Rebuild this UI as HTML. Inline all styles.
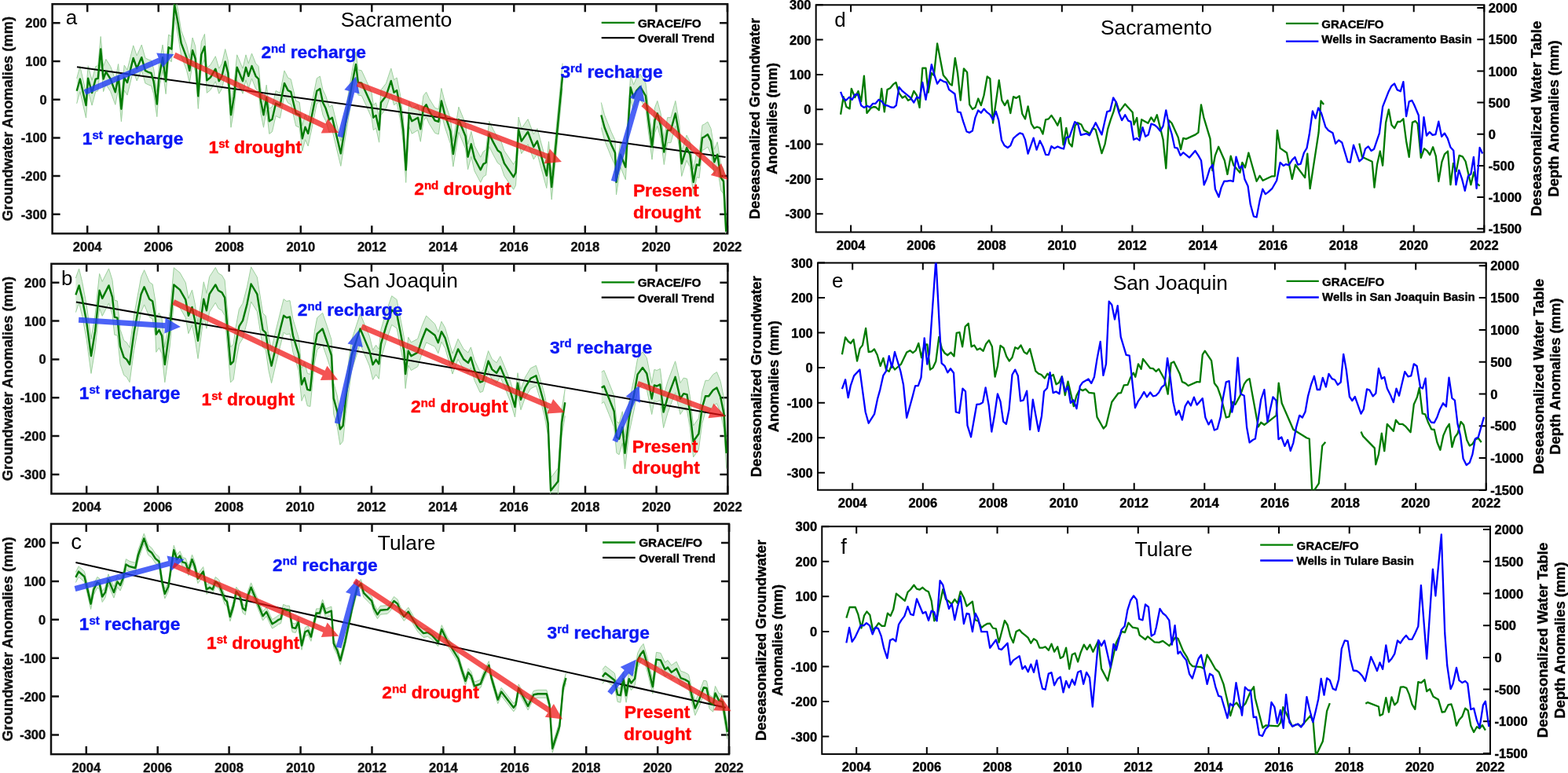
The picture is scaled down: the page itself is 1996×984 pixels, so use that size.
<!DOCTYPE html><html><head><meta charset="utf-8"><style>html,body{margin:0;padding:0;background:#fff;overflow:hidden;}svg{display:block;}</style></head><body>
<svg width="1996" height="984" viewBox="0 0 1996 984" font-family="'Liberation Sans', Arial, Helvetica, sans-serif">
<rect width="1996" height="984" fill="#fff"/>
<defs><clipPath id="clipa"><rect x="66.6" y="5.2" width="859.5" height="292.1"/></clipPath></defs>
<rect x="66.6" y="5.2" width="859.5" height="292.1" fill="none" stroke="#111" stroke-width="2.5"/>
<path d="M111.2 5.2v10M111.2 297.3v-10M201.7 5.2v10M201.7 297.3v-10M292.2 5.2v10M292.2 297.3v-10M382.8 5.2v10M382.8 297.3v-10M473.3 5.2v10M473.3 297.3v-10M563.8 5.2v10M563.8 297.3v-10M654.3 5.2v10M654.3 297.3v-10M744.8 5.2v10M744.8 297.3v-10M835.4 5.2v10M835.4 297.3v-10M925.9 5.2v10M925.9 297.3v-10M66.6 272.8h10M926.1 272.8h-10M66.6 224.1h10M926.1 224.1h-10M66.6 175.4h10M926.1 175.4h-10M66.6 126.7h10M926.1 126.7h-10M66.6 78h10M926.1 78h-10M66.6 29.3h10M926.1 29.3h-10" stroke="#111" stroke-width="2.5" fill="none"/>
<g clip-path="url(#clipa)"><polygon points="97.7,99.8 101.9,84.6 109.5,118.1 112.1,83.8 117.1,102.1 121.7,84.6 124.7,83.8 128.2,46.5 131.6,84.6 134.9,75.4 140.7,84.6 146.8,101.3 150.6,81.5 154.4,122.7 158.2,83 162,89.1 169.7,57.9 174.2,70.9 180.3,57.1 184.9,73.9 189.5,76.2 192.5,77 195.6,87.6 199.8,116.6 202.4,83 207,57.1 211.1,87.6 214.6,44.2 218.4,46.5 222.2,-9.9 226.8,14.5 230.6,38.9 237.5,57.1 241.3,73.9 245.1,48 248.7,58.9 252.3,106.4 256.3,53.4 260.5,43.3 263.3,86.3 267.9,82.6 274.3,71.7 278.8,87.2 282.5,80.8 286.7,62.5 290.3,77.1 294,130.2 298,106.4 301.7,69.8 309,87.2 313,69.8 316.3,80.8 320.5,68 325.5,80.8 329.1,84.5 331.9,111.9 335.5,130.2 339.2,108.2 342.8,138.4 346.5,135.7 351.1,115.5 356.5,118.3 362,89.9 366.6,99.1 370.3,100.9 376.7,128.3 381.2,130.2 384.9,160.3 388.5,145.7 392.2,153.9 396.8,132 403.3,99.8 407.3,97.1 411,114.5 414.6,121.8 419.2,136.4 422.9,133.7 433.8,179.4 443,122 448.5,89 453,66 455.8,88.9 460.3,89.8 465.8,101.7 473.1,118.1 475.3,133.7 478.6,130.9 482.6,149.2 485,114.5 491.4,106.2 497.8,87 501.5,101.7 505.1,98.9 509.7,121.8 513.4,151 516.7,200.4 520.7,129.1 524.3,138.2 532,133.7 535.3,148.3 539,121.8 542.6,117.2 546.3,125.4 553.6,137.3 558.3,138.9 561.9,112.4 566,128.9 573.3,150.8 576.9,180.1 583.9,136.2 592.5,157.2 595.6,183.7 599.8,167.3 604,185.5 611.7,200.2 615.3,192.9 618.6,191 622.7,154.5 628.1,165.4 633.6,175.5 637.3,178.2 641.9,191.9 653.7,209.3 656.5,203.8 660.1,149 663.8,163.6 672,151.7 679.3,170.9 683.9,163.6 695.8,207.5 698.5,180.1 702.2,222.1 706.8,176.4 716.1,80.6 716.1,112.6 706.8,208.4 702.2,254.1 698.5,212.1 695.8,239.5 683.9,195.6 679.3,202.9 672,183.7 663.8,195.6 660.1,181 656.5,235.8 653.7,241.3 641.9,223.9 637.3,210.2 633.6,207.5 628.1,197.4 622.7,186.5 618.6,223 615.3,224.9 611.7,232.2 604,217.5 599.8,199.3 595.6,215.7 592.5,189.2 583.9,168.2 576.9,212.1 573.3,182.8 566,160.9 561.9,144.4 558.3,170.9 553.6,169.3 546.3,157.4 542.6,149.2 539,153.8 535.3,180.3 532,165.7 524.3,170.2 520.7,161.1 516.7,232.4 513.4,183 509.7,153.8 505.1,130.9 501.5,133.7 497.8,119 491.4,138.2 485,146.5 482.6,181.2 478.6,162.9 475.3,165.7 473.1,150.1 465.8,133.7 460.3,121.8 455.8,120.9 453,98 448.5,121 443,154 433.8,211.4 422.9,165.7 419.2,168.4 414.6,153.8 411,146.5 407.3,129.1 403.3,131.8 396.8,164 392.2,185.9 388.5,177.7 384.9,192.3 381.2,162.2 376.7,160.3 370.3,132.9 366.6,131.1 362,121.9 356.5,150.3 351.1,147.5 346.5,167.7 342.8,170.4 339.2,140.2 335.5,162.2 331.9,143.9 329.1,116.5 325.5,112.8 320.5,100 316.3,112.8 313,101.8 309,119.2 301.7,101.8 298,138.4 294,162.2 290.3,109.1 286.7,94.5 282.5,112.8 278.8,119.2 274.3,103.7 267.9,114.6 263.3,118.3 260.5,75.3 256.3,85.4 252.3,138.4 248.7,90.9 245.1,80 241.3,105.9 237.5,89.1 230.6,70.9 226.8,46.5 222.2,22.1 218.4,78.5 214.6,76.2 211.1,119.6 207,89.1 202.4,115 199.8,148.6 195.6,119.6 192.5,109 189.5,108.2 184.9,105.9 180.3,89.1 174.2,102.9 169.7,89.9 162,121.1 158.2,115 154.4,154.7 150.6,113.5 146.8,133.3 140.7,116.6 134.9,107.4 131.6,116.6 128.2,78.5 124.7,115.8 121.7,116.6 117.1,134.1 112.1,115.8 109.5,150.1 101.9,116.6 97.7,131.8" fill="#1a961a" fill-opacity="0.17" stroke="none"/><polyline points="97.7,99.8 101.9,84.6 109.5,118.1 112.1,83.8 117.1,102.1 121.7,84.6 124.7,83.8 128.2,46.5 131.6,84.6 134.9,75.4 140.7,84.6 146.8,101.3 150.6,81.5 154.4,122.7 158.2,83 162,89.1 169.7,57.9 174.2,70.9 180.3,57.1 184.9,73.9 189.5,76.2 192.5,77 195.6,87.6 199.8,116.6 202.4,83 207,57.1 211.1,87.6 214.6,44.2 218.4,46.5 222.2,-9.9 226.8,14.5 230.6,38.9 237.5,57.1 241.3,73.9 245.1,48 248.7,58.9 252.3,106.4 256.3,53.4 260.5,43.3 263.3,86.3 267.9,82.6 274.3,71.7 278.8,87.2 282.5,80.8 286.7,62.5 290.3,77.1 294,130.2 298,106.4 301.7,69.8 309,87.2 313,69.8 316.3,80.8 320.5,68 325.5,80.8 329.1,84.5 331.9,111.9 335.5,130.2 339.2,108.2 342.8,138.4 346.5,135.7 351.1,115.5 356.5,118.3 362,89.9 366.6,99.1 370.3,100.9 376.7,128.3 381.2,130.2 384.9,160.3 388.5,145.7 392.2,153.9 396.8,132 403.3,99.8 407.3,97.1 411,114.5 414.6,121.8 419.2,136.4 422.9,133.7 433.8,179.4 443,122 448.5,89 453,66 455.8,88.9 460.3,89.8 465.8,101.7 473.1,118.1 475.3,133.7 478.6,130.9 482.6,149.2 485,114.5 491.4,106.2 497.8,87 501.5,101.7 505.1,98.9 509.7,121.8 513.4,151 516.7,200.4 520.7,129.1 524.3,138.2 532,133.7 535.3,148.3 539,121.8 542.6,117.2 546.3,125.4 553.6,137.3 558.3,138.9 561.9,112.4 566,128.9 573.3,150.8 576.9,180.1 583.9,136.2 592.5,157.2 595.6,183.7 599.8,167.3 604,185.5 611.7,200.2 615.3,192.9 618.6,191 622.7,154.5 628.1,165.4 633.6,175.5 637.3,178.2 641.9,191.9 653.7,209.3 656.5,203.8 660.1,149 663.8,163.6 672,151.7 679.3,170.9 683.9,163.6 695.8,207.5 698.5,180.1 702.2,222.1 706.8,176.4 716.1,80.6" fill="none" stroke="#9ccf9c" stroke-width="1" stroke-linejoin="round" /><polyline points="97.7,131.8 101.9,116.6 109.5,150.1 112.1,115.8 117.1,134.1 121.7,116.6 124.7,115.8 128.2,78.5 131.6,116.6 134.9,107.4 140.7,116.6 146.8,133.3 150.6,113.5 154.4,154.7 158.2,115 162,121.1 169.7,89.9 174.2,102.9 180.3,89.1 184.9,105.9 189.5,108.2 192.5,109 195.6,119.6 199.8,148.6 202.4,115 207,89.1 211.1,119.6 214.6,76.2 218.4,78.5 222.2,22.1 226.8,46.5 230.6,70.9 237.5,89.1 241.3,105.9 245.1,80 248.7,90.9 252.3,138.4 256.3,85.4 260.5,75.3 263.3,118.3 267.9,114.6 274.3,103.7 278.8,119.2 282.5,112.8 286.7,94.5 290.3,109.1 294,162.2 298,138.4 301.7,101.8 309,119.2 313,101.8 316.3,112.8 320.5,100 325.5,112.8 329.1,116.5 331.9,143.9 335.5,162.2 339.2,140.2 342.8,170.4 346.5,167.7 351.1,147.5 356.5,150.3 362,121.9 366.6,131.1 370.3,132.9 376.7,160.3 381.2,162.2 384.9,192.3 388.5,177.7 392.2,185.9 396.8,164 403.3,131.8 407.3,129.1 411,146.5 414.6,153.8 419.2,168.4 422.9,165.7 433.8,211.4 443,154 448.5,121 453,98 455.8,120.9 460.3,121.8 465.8,133.7 473.1,150.1 475.3,165.7 478.6,162.9 482.6,181.2 485,146.5 491.4,138.2 497.8,119 501.5,133.7 505.1,130.9 509.7,153.8 513.4,183 516.7,232.4 520.7,161.1 524.3,170.2 532,165.7 535.3,180.3 539,153.8 542.6,149.2 546.3,157.4 553.6,169.3 558.3,170.9 561.9,144.4 566,160.9 573.3,182.8 576.9,212.1 583.9,168.2 592.5,189.2 595.6,215.7 599.8,199.3 604,217.5 611.7,232.2 615.3,224.9 618.6,223 622.7,186.5 628.1,197.4 633.6,207.5 637.3,210.2 641.9,223.9 653.7,241.3 656.5,235.8 660.1,181 663.8,195.6 672,183.7 679.3,202.9 683.9,195.6 695.8,239.5 698.5,212.1 702.2,254.1 706.8,208.4 716.1,112.6" fill="none" stroke="#9ccf9c" stroke-width="1" stroke-linejoin="round" /><polygon points="765.3,130.5 769.6,146.5 778.1,167.9 783,178.5 784.5,215.9 789.9,180.7 796.3,196.7 802.7,95.3 806.5,108.1 810.1,99.6 815,94.3 821.9,106 825.1,133.7 830,171.1 833.6,136.9 836.8,128.4 841.1,144.4 845.3,177.5 849.6,149.7 853.9,149.7 859.8,128.4 864.5,155.1 867.7,192.4 874.1,172.1 878.4,180.7 882.7,215.9 886.9,193.5 890.1,194.5 894,159.3 896.5,158.3 900.8,155.1 905,163.6 909.3,190.3 913.2,180.7 917.8,210.5 921,214.8 924.3,278.8 924.3,310.8 921,246.8 917.8,242.5 913.2,212.7 909.3,222.3 905,195.6 900.8,187.1 896.5,190.3 894,191.3 890.1,226.5 886.9,225.5 882.7,247.9 878.4,212.7 874.1,204.1 867.7,224.4 864.5,187.1 859.8,160.4 853.9,181.7 849.6,181.7 845.3,209.5 841.1,176.4 836.8,160.4 833.6,168.9 830,203.1 825.1,165.7 821.9,138 815,126.3 810.1,131.6 806.5,140.1 802.7,127.3 796.3,228.7 789.9,212.7 784.5,247.9 783,210.5 778.1,199.9 769.6,178.5 765.3,162.5" fill="#1a961a" fill-opacity="0.17" stroke="none"/><polyline points="765.3,130.5 769.6,146.5 778.1,167.9 783,178.5 784.5,215.9 789.9,180.7 796.3,196.7 802.7,95.3 806.5,108.1 810.1,99.6 815,94.3 821.9,106 825.1,133.7 830,171.1 833.6,136.9 836.8,128.4 841.1,144.4 845.3,177.5 849.6,149.7 853.9,149.7 859.8,128.4 864.5,155.1 867.7,192.4 874.1,172.1 878.4,180.7 882.7,215.9 886.9,193.5 890.1,194.5 894,159.3 896.5,158.3 900.8,155.1 905,163.6 909.3,190.3 913.2,180.7 917.8,210.5 921,214.8 924.3,278.8" fill="none" stroke="#9ccf9c" stroke-width="1" stroke-linejoin="round" /><polyline points="765.3,162.5 769.6,178.5 778.1,199.9 783,210.5 784.5,247.9 789.9,212.7 796.3,228.7 802.7,127.3 806.5,140.1 810.1,131.6 815,126.3 821.9,138 825.1,165.7 830,203.1 833.6,168.9 836.8,160.4 841.1,176.4 845.3,209.5 849.6,181.7 853.9,181.7 859.8,160.4 864.5,187.1 867.7,224.4 874.1,204.1 878.4,212.7 882.7,247.9 886.9,225.5 890.1,226.5 894,191.3 896.5,190.3 900.8,187.1 905,195.6 909.3,222.3 913.2,212.7 917.8,242.5 921,246.8 924.3,310.8" fill="none" stroke="#9ccf9c" stroke-width="1" stroke-linejoin="round" /><line x1="98" y1="85.3" x2="923.6" y2="199.9" stroke="#000" stroke-width="2"/><polyline points="97.7,115.8 101.9,100.6 109.5,134.1 112.1,99.8 117.1,118.1 121.7,100.6 124.7,99.8 128.2,62.5 131.6,100.6 134.9,91.4 140.7,100.6 146.8,117.3 150.6,97.5 154.4,138.7 158.2,99 162,105.1 169.7,73.9 174.2,86.9 180.3,73.1 184.9,89.9 189.5,92.2 192.5,93 195.6,103.6 199.8,132.6 202.4,99 207,73.1 211.1,103.6 214.6,60.2 218.4,62.5 222.2,6.1 226.8,30.5 230.6,54.9 237.5,73.1 241.3,89.9 245.1,64 248.7,74.9 252.3,122.4 256.3,69.4 260.5,59.3 263.3,102.3 267.9,98.6 274.3,87.7 278.8,103.2 282.5,96.8 286.7,78.5 290.3,93.1 294,146.2 298,122.4 301.7,85.8 309,103.2 313,85.8 316.3,96.8 320.5,84 325.5,96.8 329.1,100.5 331.9,127.9 335.5,146.2 339.2,124.2 342.8,154.4 346.5,151.7 351.1,131.5 356.5,134.3 362,105.9 366.6,115.1 370.3,116.9 376.7,144.3 381.2,146.2 384.9,176.3 388.5,161.7 392.2,169.9 396.8,148 403.3,115.8 407.3,113.1 411,130.5 414.6,137.8 419.2,152.4 422.9,149.7 433.8,195.4 443,138 448.5,105 453,82 455.8,104.9 460.3,105.8 465.8,117.7 473.1,134.1 475.3,149.7 478.6,146.9 482.6,165.2 485,130.5 491.4,122.2 497.8,103 501.5,117.7 505.1,114.9 509.7,137.8 513.4,167 516.7,216.4 520.7,145.1 524.3,154.2 532,149.7 535.3,164.3 539,137.8 542.6,133.2 546.3,141.4 553.6,153.3 558.3,154.9 561.9,128.4 566,144.9 573.3,166.8 576.9,196.1 583.9,152.2 592.5,173.2 595.6,199.7 599.8,183.3 604,201.5 611.7,216.2 615.3,208.9 618.6,207 622.7,170.5 628.1,181.4 633.6,191.5 637.3,194.2 641.9,207.9 653.7,225.3 656.5,219.8 660.1,165 663.8,179.6 672,167.7 679.3,186.9 683.9,179.6 695.8,223.5 698.5,196.1 702.2,238.1 706.8,192.4 716.1,96.6" fill="none" stroke="#007a00" stroke-width="2.4" stroke-linejoin="round" /><polyline points="765.3,146.5 769.6,162.5 778.1,183.9 783,194.5 784.5,231.9 789.9,196.7 796.3,212.7 802.7,111.3 806.5,124.1 810.1,115.6 815,110.3 821.9,122 825.1,149.7 830,187.1 833.6,152.9 836.8,144.4 841.1,160.4 845.3,193.5 849.6,165.7 853.9,165.7 859.8,144.4 864.5,171.1 867.7,208.4 874.1,188.1 878.4,196.7 882.7,231.9 886.9,209.5 890.1,210.5 894,175.3 896.5,174.3 900.8,171.1 905,179.6 909.3,206.3 913.2,196.7 917.8,226.5 921,230.8 924.3,294.8" fill="none" stroke="#007a00" stroke-width="2.4" stroke-linejoin="round" /></g>
<polygon points="109.4,120.7 204.5,80 207.1,86 221.5,68.9 199.2,67.6 201.7,73.6 106.6,114.3" fill="#1f3cf5" fill-opacity="0.8"/><polygon points="220.5,73.2 411.5,163.5 408.7,169.4 431.1,168.9 417.3,151.3 414.5,157.2 223.5,66.8" fill="#f01010" fill-opacity="0.72"/><polygon points="436.3,175.2 451.3,117.7 457.6,119.4 453,97.5 438.3,114.3 444.6,116 429.5,173.4" fill="#1f3cf5" fill-opacity="0.8"/><polygon points="453.7,110 695.1,202.2 692.7,208.3 715,206.1 699.9,189.6 697.6,195.7 456.1,103.4" fill="#f01010" fill-opacity="0.72"/><polygon points="784.7,231.8 814.3,128.3 820.6,130.1 816.5,108.1 801.4,124.6 807.6,126.4 777.9,229.8" fill="#1f3cf5" fill-opacity="0.8"/><polygon points="816.4,135.3 909.1,218 904.8,222.9 926.4,228.7 918.1,207.9 913.8,212.8 821,130.1" fill="#f01010" fill-opacity="0.72"/>
<g font-size="16.5" font-weight="bold" fill="#111" stroke="#111" stroke-width="0.4"><text x="111.2" y="320" text-anchor="middle">2004</text><text x="201.7" y="320" text-anchor="middle">2006</text><text x="292.2" y="320" text-anchor="middle">2008</text><text x="382.8" y="320" text-anchor="middle">2010</text><text x="473.3" y="320" text-anchor="middle">2012</text><text x="563.8" y="320" text-anchor="middle">2014</text><text x="654.3" y="320" text-anchor="middle">2016</text><text x="744.8" y="320" text-anchor="middle">2018</text><text x="835.4" y="320" text-anchor="middle">2020</text><text x="925.9" y="320" text-anchor="middle">2022</text><text x="59.8" y="278.8" text-anchor="end">-300</text><text x="59.8" y="230.1" text-anchor="end">-200</text><text x="59.8" y="181.4" text-anchor="end">-100</text><text x="59.8" y="132.7" text-anchor="end">0</text><text x="59.8" y="84" text-anchor="end">100</text><text x="59.8" y="35.3" text-anchor="end">200</text></g>
<text transform="translate(16.2,151.2) rotate(-90)" text-anchor="middle" font-size="18.3" font-weight="bold" fill="#111" stroke="#111" stroke-width="0.4">Groundwater Anomalies (mm)</text>
<text x="83.8" y="31.2" font-size="26" fill="#000">a</text>
<text x="504.6" y="34" text-anchor="middle" font-size="26.3" fill="#000">Sacramento</text>
<line x1="765.7" y1="28.8" x2="807.8" y2="28.8" stroke="#008000" stroke-width="2.3"/>
<line x1="765.7" y1="48.1" x2="807.8" y2="48.1" stroke="#000" stroke-width="2.3"/>
<text x="811.9" y="34.8" font-size="15.3" font-weight="bold" fill="#000" stroke="#000" stroke-width="0.4">GRACE/FO</text>
<text x="811.9" y="54.3" font-size="15.3" font-weight="bold" fill="#000" stroke="#000" stroke-width="0.4">Overall Trend</text>
<text x="104.8" y="184.3" font-size="22.8" font-weight="bold" fill="#0a18f5" stroke="#0a18f5" stroke-width="0.4">1<tspan font-size="15" dy="-7.2">st</tspan><tspan dy="7.2"> recharge</tspan></text>
<text x="265.6" y="194.8" font-size="22.8" font-weight="bold" fill="#ff0000" stroke="#ff0000" stroke-width="0.4">1<tspan font-size="15" dy="-7.2">st</tspan><tspan dy="7.2"> drought</tspan></text>
<text x="332.4" y="74.1" font-size="22.8" font-weight="bold" fill="#0a18f5" stroke="#0a18f5" stroke-width="0.4">2<tspan font-size="15" dy="-7.2">nd</tspan><tspan dy="7.2"> recharge</tspan></text>
<text x="527.2" y="248.1" font-size="22.8" font-weight="bold" fill="#ff0000" stroke="#ff0000" stroke-width="0.4">2<tspan font-size="15" dy="-7.2">nd</tspan><tspan dy="7.2"> drought</tspan></text>
<text x="713.4" y="99.3" font-size="22.8" font-weight="bold" fill="#0a18f5" stroke="#0a18f5" stroke-width="0.4">3<tspan font-size="15" dy="-7.2">rd</tspan><tspan dy="7.2"> recharge</tspan></text>
<text x="805.9" y="250.4" font-size="22.8" font-weight="bold" fill="#ff0000" stroke="#ff0000" stroke-width="0.4">Present</text>
<text x="805.9" y="277.7" font-size="22.8" font-weight="bold" fill="#ff0000" stroke="#ff0000" stroke-width="0.4">drought</text>
<defs><clipPath id="clipb"><rect x="65.4" y="335.8" width="861" height="292.7"/></clipPath></defs>
<rect x="65.4" y="335.8" width="861" height="292.7" fill="none" stroke="#111" stroke-width="2.5"/>
<path d="M110.2 335.8v10M110.2 628.5v-10M200.9 335.8v10M200.9 628.5v-10M291.6 335.8v10M291.6 628.5v-10M382.2 335.8v10M382.2 628.5v-10M472.9 335.8v10M472.9 628.5v-10M563.6 335.8v10M563.6 628.5v-10M654.3 335.8v10M654.3 628.5v-10M745 335.8v10M745 628.5v-10M835.6 335.8v10M835.6 628.5v-10M926.3 335.8v10M926.3 628.5v-10M65.4 603.9h10M926.4 603.9h-10M65.4 555.1h10M926.4 555.1h-10M65.4 506.2h10M926.4 506.2h-10M65.4 457.4h10M926.4 457.4h-10M65.4 408.5h10M926.4 408.5h-10M65.4 359.7h10M926.4 359.7h-10" stroke="#111" stroke-width="2.5" fill="none"/>
<g clip-path="url(#clipb)"><polygon points="96.4,354 100.6,342.1 104.6,358.6 110.1,387.7 116,431.6 121.1,400.5 126.6,348.4 130.2,358.5 138.5,341.9 143,356.6 145.8,382.2 149.4,383.1 153.1,419.6 157.7,433.4 161.3,436.1 165,442.4 170.5,402.2 179.6,352.8 183.6,343.7 190.2,359.2 194.2,361.9 197.9,383.8 198.8,403.9 202.5,398.4 206.1,405.7 209.8,442.3 216.2,396.6 221.3,340.8 229,347.1 236.3,359.9 239.9,380 244.5,369.1 248.3,387.2 252,411.9 259.3,358.8 262.9,373.4 266.6,352.4 274.3,340.5 277.9,347.8 282.5,350.5 286.1,356.8 293.5,441.9 297.1,438.2 299.9,418.1 304.4,393.5 309,386.2 314.5,365.3 319.6,339.8 327.3,352.8 334.6,398.6 338.3,402.2 341.9,427.9 345.6,444.5 351.1,420.8 356.5,398.9 361.1,380.7 364.8,383.5 369,382.6 373,406.5 380.3,430.4 384,468.9 387.6,460.7 391.3,475.4 394.9,476.4 400.4,421.6 403.7,404.6 410.6,398.3 416.5,415.7 421.9,432.3 424.7,487.2 429.3,503.8 432.9,526.7 436.6,522.3 440.2,487.6 447.5,433 458.5,399.5 463.1,410.5 470.4,428.1 474.6,445.6 478.6,439.3 482.3,444.9 485,419.3 491.4,397.5 498.7,376.7 505.1,381.4 509.7,405.2 514.3,429.2 516.1,458.5 519.8,429.3 523.4,435.8 531.7,431.4 537.1,415.1 542.6,402 553.6,412.4 557.8,422.8 562,409.2 566.7,417.4 576,450.1 583.1,431.4 590.1,444.3 595.9,448.9 599.4,441.9 604.1,458.3 611.1,473.5 614.6,472.3 621.6,446.6 626.3,457.1 632.1,461.8 636.8,453.6 642.7,467.6 649.7,485.2 655.5,505 659,474.7 663,495.7 668.4,480.5 675.4,468.8 682.4,465.3 687.1,480.5 692.9,500.6 697.6,523.8 701.1,608.3 710.4,596 715.1,520.9 719.3,494.9 719.3,529.5 715.1,554.9 710.4,629.4 701.1,640.5 697.6,554.4 692.9,528.4 687.1,506.5 682.4,491.3 675.4,494.8 668.4,506.5 663,521.7 659,500.7 655.5,531 649.7,511.2 642.7,493.6 636.8,479.6 632.1,487.8 626.3,483.1 621.6,472.6 614.6,498.3 611.1,499.5 604.1,484.3 599.4,467.9 595.9,474.9 590.1,470.3 583.1,457.4 576,476.1 566.7,443.4 562,435.2 557.8,449.8 553.6,441.3 542.6,435.9 537.1,450.2 531.7,466.7 523.4,471.5 519.8,465.1 516.1,494.5 514.3,465.2 509.7,441.5 505.1,417.9 498.7,413.4 491.4,434.5 485,456.6 482.3,482.3 478.6,476.8 474.6,483.3 470.4,466 463.1,448.7 458.5,437.9 447.5,471.8 440.2,526.8 436.6,561.6 432.9,566.2 429.3,543.4 424.7,527 421.9,472.3 416.5,455.9 410.6,438.7 403.7,445.3 400.4,462.4 394.9,517.4 391.3,516.6 387.6,502 384,510.4 380.3,472.1 373,448.5 369,424.8 364.8,425.8 361.1,423.2 356.5,441.6 351.1,463.6 345.6,487.6 341.9,471.2 338.3,445.6 334.6,442.1 327.3,396.6 319.6,384 314.5,409.7 309,430.9 304.4,438.3 299.9,463.1 297.1,483.2 293.5,486.9 286.1,401.8 282.5,395.3 277.9,392.6 274.3,385.3 266.6,397.2 262.9,418.2 259.3,403.6 252,456.5 248.3,431.8 244.5,413.7 239.9,424.6 236.3,404.5 229,391.7 221.3,385.2 216.2,441 209.8,486.7 206.1,450.1 202.5,442.8 198.8,448.3 197.9,428.2 194.2,406.1 190.2,403.4 183.6,387.9 179.6,397 170.5,446.4 165,486.6 161.3,480.1 157.7,477.4 153.1,463.6 149.4,427.1 145.8,426.2 143,400.6 138.5,385.9 130.2,402.3 126.6,392.2 121.1,444.3 116,475.4 110.1,431.5 104.6,402.2 100.6,385.7 96.4,397.6" fill="#1a961a" fill-opacity="0.17" stroke="none"/><polyline points="96.4,354 100.6,342.1 104.6,358.6 110.1,387.7 116,431.6 121.1,400.5 126.6,348.4 130.2,358.5 138.5,341.9 143,356.6 145.8,382.2 149.4,383.1 153.1,419.6 157.7,433.4 161.3,436.1 165,442.4 170.5,402.2 179.6,352.8 183.6,343.7 190.2,359.2 194.2,361.9 197.9,383.8 198.8,403.9 202.5,398.4 206.1,405.7 209.8,442.3 216.2,396.6 221.3,340.8 229,347.1 236.3,359.9 239.9,380 244.5,369.1 248.3,387.2 252,411.9 259.3,358.8 262.9,373.4 266.6,352.4 274.3,340.5 277.9,347.8 282.5,350.5 286.1,356.8 293.5,441.9 297.1,438.2 299.9,418.1 304.4,393.5 309,386.2 314.5,365.3 319.6,339.8 327.3,352.8 334.6,398.6 338.3,402.2 341.9,427.9 345.6,444.5 351.1,420.8 356.5,398.9 361.1,380.7 364.8,383.5 369,382.6 373,406.5 380.3,430.4 384,468.9 387.6,460.7 391.3,475.4 394.9,476.4 400.4,421.6 403.7,404.6 410.6,398.3 416.5,415.7 421.9,432.3 424.7,487.2 429.3,503.8 432.9,526.7 436.6,522.3 440.2,487.6 447.5,433 458.5,399.5 463.1,410.5 470.4,428.1 474.6,445.6 478.6,439.3 482.3,444.9 485,419.3 491.4,397.5 498.7,376.7 505.1,381.4 509.7,405.2 514.3,429.2 516.1,458.5 519.8,429.3 523.4,435.8 531.7,431.4 537.1,415.1 542.6,402 553.6,412.4 557.8,422.8 562,409.2 566.7,417.4 576,450.1 583.1,431.4 590.1,444.3 595.9,448.9 599.4,441.9 604.1,458.3 611.1,473.5 614.6,472.3 621.6,446.6 626.3,457.1 632.1,461.8 636.8,453.6 642.7,467.6 649.7,485.2 655.5,505 659,474.7 663,495.7 668.4,480.5 675.4,468.8 682.4,465.3 687.1,480.5 692.9,500.6 697.6,523.8 701.1,608.3 710.4,596 715.1,520.9 719.3,494.9" fill="none" stroke="#9ccf9c" stroke-width="1" stroke-linejoin="round" /><polyline points="96.4,397.6 100.6,385.7 104.6,402.2 110.1,431.5 116,475.4 121.1,444.3 126.6,392.2 130.2,402.3 138.5,385.9 143,400.6 145.8,426.2 149.4,427.1 153.1,463.6 157.7,477.4 161.3,480.1 165,486.6 170.5,446.4 179.6,397 183.6,387.9 190.2,403.4 194.2,406.1 197.9,428.2 198.8,448.3 202.5,442.8 206.1,450.1 209.8,486.7 216.2,441 221.3,385.2 229,391.7 236.3,404.5 239.9,424.6 244.5,413.7 248.3,431.8 252,456.5 259.3,403.6 262.9,418.2 266.6,397.2 274.3,385.3 277.9,392.6 282.5,395.3 286.1,401.8 293.5,486.9 297.1,483.2 299.9,463.1 304.4,438.3 309,430.9 314.5,409.7 319.6,384 327.3,396.6 334.6,442.1 338.3,445.6 341.9,471.2 345.6,487.6 351.1,463.6 356.5,441.6 361.1,423.2 364.8,425.8 369,424.8 373,448.5 380.3,472.1 384,510.4 387.6,502 391.3,516.6 394.9,517.4 400.4,462.4 403.7,445.3 410.6,438.7 416.5,455.9 421.9,472.3 424.7,527 429.3,543.4 432.9,566.2 436.6,561.6 440.2,526.8 447.5,471.8 458.5,437.9 463.1,448.7 470.4,466 474.6,483.3 478.6,476.8 482.3,482.3 485,456.6 491.4,434.5 498.7,413.4 505.1,417.9 509.7,441.5 514.3,465.2 516.1,494.5 519.8,465.1 523.4,471.5 531.7,466.7 537.1,450.2 542.6,435.9 553.6,441.3 557.8,449.8 562,435.2 566.7,443.4 576,476.1 583.1,457.4 590.1,470.3 595.9,474.9 599.4,467.9 604.1,484.3 611.1,499.5 614.6,498.3 621.6,472.6 626.3,483.1 632.1,487.8 636.8,479.6 642.7,493.6 649.7,511.2 655.5,531 659,500.7 663,521.7 668.4,506.5 675.4,494.8 682.4,491.3 687.1,506.5 692.9,528.4 697.6,554.4 701.1,640.5 710.4,629.4 715.1,554.9 719.3,529.5" fill="none" stroke="#9ccf9c" stroke-width="1" stroke-linejoin="round" /><polygon points="765.7,473.6 768.9,471.5 775.3,487.5 781.7,503.5 784.9,536.6 788.1,538.7 792.3,523.8 795.5,556.8 800.9,511 807.3,481.1 811.6,456.6 818,448 823.3,455.5 829.7,487.5 832.9,470.4 836.1,471.5 840.4,469.4 844.6,504.6 850,485.4 859.6,459.8 866,487.5 870.2,481.1 874.5,482.2 878.3,504.6 882.6,541.9 889.4,532.3 893.7,499.2 898,484.3 902.2,484.3 907.6,476.8 912.5,473.6 917.2,485.4 921.5,506.7 924.7,556.8 924.7,596.8 921.5,546.7 917.2,525.4 912.5,513.6 907.6,516.8 902.2,524.3 898,524.3 893.7,539.2 889.4,572.3 882.6,581.9 878.3,544.6 874.5,522.2 870.2,521.1 866,527.5 859.6,499.8 850,525.4 844.6,544.6 840.4,509.4 836.1,511.5 832.9,510.4 829.7,527.5 823.3,495.5 818,488 811.6,496.6 807.3,521.1 800.9,551 795.5,596.8 792.3,563.8 788.1,578.7 784.9,576.6 781.7,543.5 775.3,527.5 768.9,511.5 765.7,513.6" fill="#1a961a" fill-opacity="0.17" stroke="none"/><polyline points="765.7,473.6 768.9,471.5 775.3,487.5 781.7,503.5 784.9,536.6 788.1,538.7 792.3,523.8 795.5,556.8 800.9,511 807.3,481.1 811.6,456.6 818,448 823.3,455.5 829.7,487.5 832.9,470.4 836.1,471.5 840.4,469.4 844.6,504.6 850,485.4 859.6,459.8 866,487.5 870.2,481.1 874.5,482.2 878.3,504.6 882.6,541.9 889.4,532.3 893.7,499.2 898,484.3 902.2,484.3 907.6,476.8 912.5,473.6 917.2,485.4 921.5,506.7 924.7,556.8" fill="none" stroke="#9ccf9c" stroke-width="1" stroke-linejoin="round" /><polyline points="765.7,513.6 768.9,511.5 775.3,527.5 781.7,543.5 784.9,576.6 788.1,578.7 792.3,563.8 795.5,596.8 800.9,551 807.3,521.1 811.6,496.6 818,488 823.3,495.5 829.7,527.5 832.9,510.4 836.1,511.5 840.4,509.4 844.6,544.6 850,525.4 859.6,499.8 866,527.5 870.2,521.1 874.5,522.2 878.3,544.6 882.6,581.9 889.4,572.3 893.7,539.2 898,524.3 902.2,524.3 907.6,516.8 912.5,513.6 917.2,525.4 921.5,546.7 924.7,596.8" fill="none" stroke="#9ccf9c" stroke-width="1" stroke-linejoin="round" /><line x1="96.9" y1="384.5" x2="923.6" y2="529.3" stroke="#000" stroke-width="2"/><polyline points="96.4,375.3 100.6,363.4 104.6,379.9 110.1,409.1 116,453 121.1,421.9 126.6,369.8 130.2,379.9 138.5,363.4 143,378.1 145.8,403.7 149.4,404.6 153.1,441.1 157.7,454.9 161.3,457.6 165,464 170.5,423.8 179.6,374.4 183.6,365.3 190.2,380.8 194.2,383.5 197.9,405.5 198.8,425.6 202.5,420.1 206.1,427.4 209.8,464 216.2,418.3 221.3,362.5 229,368.9 236.3,381.7 239.9,401.8 244.5,390.9 248.3,409 252,433.7 259.3,380.7 262.9,395.3 266.6,374.3 274.3,362.4 277.9,369.7 282.5,372.4 286.1,378.8 293.5,463.9 297.1,460.2 299.9,440.1 304.4,415.4 309,408.1 314.5,387.1 319.6,361.5 327.3,374.3 334.6,420 338.3,423.6 341.9,449.2 345.6,465.7 351.1,441.9 356.5,420 361.1,401.7 364.8,404.4 369,403.5 373,427.3 380.3,451.1 384,489.5 387.6,481.2 391.3,495.9 394.9,496.8 400.4,441.9 403.7,424.9 410.6,418.5 416.5,435.8 421.9,452.3 424.7,507.1 429.3,523.6 432.9,546.4 436.6,541.9 440.2,507.1 447.5,452.3 458.5,418.5 463.1,429.4 470.4,446.8 474.6,464.2 478.6,457.8 482.3,463.3 485,437.7 491.4,415.7 498.7,394.7 505.1,399.3 509.7,423 514.3,446.8 516.1,476.1 519.8,446.8 523.4,453.2 531.7,448.6 537.1,432.2 542.6,418.5 553.6,426.7 557.8,436.2 562,422.2 566.7,430.4 576,463.1 583.1,444.4 590.1,457.3 595.9,461.9 599.4,454.9 604.1,471.3 611.1,486.5 614.6,485.3 621.6,459.6 626.3,470.1 632.1,474.8 636.8,466.6 642.7,480.6 649.7,498.2 655.5,518 659,487.7 663,508.7 668.4,493.5 675.4,481.8 682.4,478.3 687.1,493.5 692.9,514.5 697.6,539.1 701.1,624.4 710.4,612.7 715.1,537.9 719.3,512.2" fill="none" stroke="#007a00" stroke-width="2.4" stroke-linejoin="round" /><polyline points="765.7,493.6 768.9,491.5 775.3,507.5 781.7,523.5 784.9,556.6 788.1,558.7 792.3,543.8 795.5,576.8 800.9,531 807.3,501.1 811.6,476.6 818,468 823.3,475.5 829.7,507.5 832.9,490.4 836.1,491.5 840.4,489.4 844.6,524.6 850,505.4 859.6,479.8 866,507.5 870.2,501.1 874.5,502.2 878.3,524.6 882.6,561.9 889.4,552.3 893.7,519.2 898,504.3 902.2,504.3 907.6,496.8 912.5,493.6 917.2,505.4 921.5,526.7 924.7,576.8" fill="none" stroke="#007a00" stroke-width="2.4" stroke-linejoin="round" /></g>
<polygon points="99.9,410.8 209.7,418.1 209.3,424.6 229.9,415.9 210.6,404.6 210.2,411.1 100.3,403.8" fill="#1f3cf5" fill-opacity="0.8"/><polygon points="219.2,387.7 410.6,478 407.8,483.9 430.2,483.4 416.4,465.8 413.6,471.7 222.2,381.3" fill="#f01010" fill-opacity="0.72"/><polygon points="432.7,539.9 455.6,440.6 461.9,442 456.7,420.3 442.5,437.5 448.8,439 425.9,538.3" fill="#1f3cf5" fill-opacity="0.8"/><polygon points="458.9,418.9 698.8,520.5 696.3,526.5 718.6,525.1 704.1,508.1 701.5,514.1 461.7,412.5" fill="#f01010" fill-opacity="0.72"/><polygon points="785.9,563.3 809,510.1 814.9,512.7 813.7,490.4 796.6,504.8 802.5,507.4 779.5,560.5" fill="#1f3cf5" fill-opacity="0.8"/><polygon points="810.4,491.6 903.6,526.2 901.4,532.3 923.6,529.9 908.3,513.6 906.1,519.7 812.8,485" fill="#f01010" fill-opacity="0.72"/>
<g font-size="16.5" font-weight="bold" fill="#111" stroke="#111" stroke-width="0.4"><text x="110.2" y="651.2" text-anchor="middle">2004</text><text x="200.9" y="651.2" text-anchor="middle">2006</text><text x="291.6" y="651.2" text-anchor="middle">2008</text><text x="382.2" y="651.2" text-anchor="middle">2010</text><text x="472.9" y="651.2" text-anchor="middle">2012</text><text x="563.6" y="651.2" text-anchor="middle">2014</text><text x="654.3" y="651.2" text-anchor="middle">2016</text><text x="745" y="651.2" text-anchor="middle">2018</text><text x="835.6" y="651.2" text-anchor="middle">2020</text><text x="926.3" y="651.2" text-anchor="middle">2022</text><text x="58.6" y="609.9" text-anchor="end">-300</text><text x="58.6" y="561.1" text-anchor="end">-200</text><text x="58.6" y="512.2" text-anchor="end">-100</text><text x="58.6" y="463.4" text-anchor="end">0</text><text x="58.6" y="414.5" text-anchor="end">100</text><text x="58.6" y="365.7" text-anchor="end">200</text></g>
<text transform="translate(16.2,482.1) rotate(-90)" text-anchor="middle" font-size="18.3" font-weight="bold" fill="#111" stroke="#111" stroke-width="0.4">Groundwater Anomalies (mm)</text>
<text x="77.9" y="362.6" font-size="26" fill="#000">b</text>
<text x="509.7" y="365.8" text-anchor="middle" font-size="26.3" fill="#000">San Joaquin</text>
<line x1="765.7" y1="359.3" x2="807.6" y2="359.3" stroke="#008000" stroke-width="2.3"/>
<line x1="765.7" y1="378.6" x2="807.6" y2="378.6" stroke="#000" stroke-width="2.3"/>
<text x="811.7" y="364.9" font-size="15.3" font-weight="bold" fill="#000" stroke="#000" stroke-width="0.4">GRACE/FO</text>
<text x="811.7" y="384.5" font-size="15.3" font-weight="bold" fill="#000" stroke="#000" stroke-width="0.4">Overall Trend</text>
<text x="100.7" y="507.9" font-size="22.8" font-weight="bold" fill="#0a18f5" stroke="#0a18f5" stroke-width="0.4">1<tspan font-size="15" dy="-7.2">st</tspan><tspan dy="7.2"> recharge</tspan></text>
<text x="256.6" y="516" font-size="22.8" font-weight="bold" fill="#ff0000" stroke="#ff0000" stroke-width="0.4">1<tspan font-size="15" dy="-7.2">st</tspan><tspan dy="7.2"> drought</tspan></text>
<text x="378.8" y="402.3" font-size="22.8" font-weight="bold" fill="#0a18f5" stroke="#0a18f5" stroke-width="0.4">2<tspan font-size="15" dy="-7.2">nd</tspan><tspan dy="7.2"> recharge</tspan></text>
<text x="523.1" y="525.4" font-size="22.8" font-weight="bold" fill="#ff0000" stroke="#ff0000" stroke-width="0.4">2<tspan font-size="15" dy="-7.2">nd</tspan><tspan dy="7.2"> drought</tspan></text>
<text x="699.9" y="449.6" font-size="22.8" font-weight="bold" fill="#0a18f5" stroke="#0a18f5" stroke-width="0.4">3<tspan font-size="15" dy="-7.2">rd</tspan><tspan dy="7.2"> recharge</tspan></text>
<text x="804.7" y="575.8" font-size="22.8" font-weight="bold" fill="#ff0000" stroke="#ff0000" stroke-width="0.4">Present</text>
<text x="804.7" y="602.5" font-size="22.8" font-weight="bold" fill="#ff0000" stroke="#ff0000" stroke-width="0.4">drought</text>
<defs><clipPath id="clipc"><rect x="65" y="666.9" width="863" height="293.2"/></clipPath></defs>
<rect x="65" y="666.9" width="863" height="293.2" fill="none" stroke="#111" stroke-width="2.5"/>
<path d="M109.8 666.9v10M109.8 960.1v-10M200.7 666.9v10M200.7 960.1v-10M291.6 666.9v10M291.6 960.1v-10M382.6 666.9v10M382.6 960.1v-10M473.5 666.9v10M473.5 960.1v-10M564.4 666.9v10M564.4 960.1v-10M655.3 666.9v10M655.3 960.1v-10M746.2 666.9v10M746.2 960.1v-10M837.2 666.9v10M837.2 960.1v-10M928.1 666.9v10M928.1 960.1v-10M65 935.4h10M928 935.4h-10M65 886.5h10M928 886.5h-10M65 837.7h10M928 837.7h-10M65 788.8h10M928 788.8h-10M65 739.9h10M928 739.9h-10M65 691.1h10M928 691.1h-10" stroke="#111" stroke-width="2.5" fill="none"/>
<g clip-path="url(#clipc)"><polygon points="96.4,728.3 100.1,720.9 107.4,727.3 111,741.9 115.6,761.9 119.3,743.7 123.8,734.5 126.6,736.3 130.2,752.7 133.9,747.2 137.9,730.8 144.9,747.1 149.4,733.4 153.1,738.1 156.7,728.9 160.4,711.7 165,714.5 172.3,716.4 175.9,700.1 183.3,679.2 188.7,694 193.3,697.7 197.9,705.1 202.5,708.8 206.1,733.5 209.8,749.9 214.3,740.8 218,715.2 221.3,694.2 225.3,706.2 229,701.6 232.6,709.8 236.3,710.7 239.9,720.8 244.5,706.2 247.7,714.3 251.9,730.8 258.7,721.6 262.9,744.5 266.9,741.8 270.6,744.5 274.3,734.4 278.8,738.2 286.1,757.4 288.9,760.1 292.9,779.3 297.1,765.6 300.8,747.3 305.3,752.8 309,768.4 312.3,771.1 315.4,752.8 319.6,741.9 326.4,758.4 334.6,778.5 339.2,773 346.5,788.6 351.1,785.8 354.7,783.1 357.5,782.2 360.6,769.4 364.8,771.2 368.4,771.2 372.1,793.2 376.3,794.2 379.9,785.9 384,816.1 388.5,798.7 392.2,796.9 395.9,805.1 399.5,788.7 402.7,774.9 406.9,774.9 410.6,763 414.6,774.9 421.9,772.1 424.7,813.3 429.3,822.5 433.3,835.3 439.3,811.5 443.9,789.6 448.5,767.6 454.9,742 459.4,737.5 463.1,749.4 469.5,755.8 473.1,759.4 475.9,768.7 480.5,776.9 484.1,771.4 493.3,770.5 496.9,766.8 501.5,759.5 506.1,763.2 509.7,772.3 514.3,779.6 519.8,773.2 526.2,784.3 531.7,793.4 539,800.8 544.5,799.8 549.9,803.5 557.7,812.2 562.3,795.7 569.6,811.3 575.1,819.6 583.4,833.3 587.9,848 592.5,861.7 596.2,850.7 599.8,855.3 604,868.1 611.7,865.3 616.3,853.5 622.3,841.6 625.4,857.2 633.7,885.6 638.2,875.5 653.8,895.6 656.5,892 660.2,870.9 672.1,893.8 679.4,879.3 684.9,878.3 695.8,878.3 699.5,892.1 703.2,947.7 712.3,918.7 716.9,869 720.5,856.8 720.5,869.6 716.9,881.2 712.3,930.3 703.2,958.1 699.5,902.1 695.8,888.3 684.9,888.3 679.4,889.3 672.1,904 660.2,881.1 656.5,902.2 653.8,905.8 638.2,885.7 633.7,895.8 625.4,867.4 622.3,852 616.3,863.9 611.7,875.7 604,878.5 599.8,865.7 596.2,861.1 592.5,872.1 587.9,858.4 583.4,843.7 575.1,830 569.6,821.9 562.3,806.3 557.7,822.8 549.9,814.1 544.5,810.4 539,811.4 531.7,804 526.2,794.9 519.8,784 514.3,790.4 509.7,783.1 506.1,774 501.5,770.3 496.9,777.6 493.3,781.3 484.1,782.2 480.5,787.7 475.9,779.5 473.1,770.4 469.5,766.8 463.1,760.4 459.4,748.5 454.9,753 448.5,778.6 443.9,800.6 439.3,822.5 433.3,846.3 429.3,833.5 424.7,824.5 421.9,783.3 414.6,786.1 410.6,774.2 406.9,786.1 402.7,786.1 399.5,799.9 395.9,816.3 392.2,808.1 388.5,809.9 384,827.3 379.9,797.1 376.3,805.4 372.1,804.6 368.4,782.6 364.8,782.6 360.6,780.8 357.5,793.6 354.7,794.5 351.1,797.2 346.5,800 339.2,784.4 334.6,789.9 326.4,769.8 319.6,753.5 315.4,764.4 312.3,782.7 309,780 305.3,764.4 300.8,758.9 297.1,777.2 292.9,790.9 288.9,771.7 286.1,769 278.8,749.8 274.3,746.2 270.6,756.3 266.9,753.6 262.9,756.3 258.7,733.4 251.9,742.6 247.7,726.1 244.5,718 239.9,732.6 236.3,722.5 232.6,721.6 229,713.4 225.3,718 221.3,706.2 218,727.2 214.3,752.8 209.8,761.9 206.1,745.5 202.5,720.8 197.9,717.1 193.3,709.9 188.7,706.4 183.3,691.8 175.9,713.1 172.3,729.6 165,727.9 160.4,725.3 156.7,742.7 153.1,751.9 149.4,747.4 144.9,761.1 137.9,744.6 133.9,761 130.2,766.5 126.6,749.9 123.8,748.1 119.3,757.3 115.6,775.5 111,755.3 107.4,740.7 100.1,734.3 96.4,741.5" fill="#1a961a" fill-opacity="0.17" stroke="none"/><polyline points="96.4,728.3 100.1,720.9 107.4,727.3 111,741.9 115.6,761.9 119.3,743.7 123.8,734.5 126.6,736.3 130.2,752.7 133.9,747.2 137.9,730.8 144.9,747.1 149.4,733.4 153.1,738.1 156.7,728.9 160.4,711.7 165,714.5 172.3,716.4 175.9,700.1 183.3,679.2 188.7,694 193.3,697.7 197.9,705.1 202.5,708.8 206.1,733.5 209.8,749.9 214.3,740.8 218,715.2 221.3,694.2 225.3,706.2 229,701.6 232.6,709.8 236.3,710.7 239.9,720.8 244.5,706.2 247.7,714.3 251.9,730.8 258.7,721.6 262.9,744.5 266.9,741.8 270.6,744.5 274.3,734.4 278.8,738.2 286.1,757.4 288.9,760.1 292.9,779.3 297.1,765.6 300.8,747.3 305.3,752.8 309,768.4 312.3,771.1 315.4,752.8 319.6,741.9 326.4,758.4 334.6,778.5 339.2,773 346.5,788.6 351.1,785.8 354.7,783.1 357.5,782.2 360.6,769.4 364.8,771.2 368.4,771.2 372.1,793.2 376.3,794.2 379.9,785.9 384,816.1 388.5,798.7 392.2,796.9 395.9,805.1 399.5,788.7 402.7,774.9 406.9,774.9 410.6,763 414.6,774.9 421.9,772.1 424.7,813.3 429.3,822.5 433.3,835.3 439.3,811.5 443.9,789.6 448.5,767.6 454.9,742 459.4,737.5 463.1,749.4 469.5,755.8 473.1,759.4 475.9,768.7 480.5,776.9 484.1,771.4 493.3,770.5 496.9,766.8 501.5,759.5 506.1,763.2 509.7,772.3 514.3,779.6 519.8,773.2 526.2,784.3 531.7,793.4 539,800.8 544.5,799.8 549.9,803.5 557.7,812.2 562.3,795.7 569.6,811.3 575.1,819.6 583.4,833.3 587.9,848 592.5,861.7 596.2,850.7 599.8,855.3 604,868.1 611.7,865.3 616.3,853.5 622.3,841.6 625.4,857.2 633.7,885.6 638.2,875.5 653.8,895.6 656.5,892 660.2,870.9 672.1,893.8 679.4,879.3 684.9,878.3 695.8,878.3 699.5,892.1 703.2,947.7 712.3,918.7 716.9,869 720.5,856.8" fill="none" stroke="#9ccf9c" stroke-width="1" stroke-linejoin="round" /><polyline points="96.4,741.5 100.1,734.3 107.4,740.7 111,755.3 115.6,775.5 119.3,757.3 123.8,748.1 126.6,749.9 130.2,766.5 133.9,761 137.9,744.6 144.9,761.1 149.4,747.4 153.1,751.9 156.7,742.7 160.4,725.3 165,727.9 172.3,729.6 175.9,713.1 183.3,691.8 188.7,706.4 193.3,709.9 197.9,717.1 202.5,720.8 206.1,745.5 209.8,761.9 214.3,752.8 218,727.2 221.3,706.2 225.3,718 229,713.4 232.6,721.6 236.3,722.5 239.9,732.6 244.5,718 247.7,726.1 251.9,742.6 258.7,733.4 262.9,756.3 266.9,753.6 270.6,756.3 274.3,746.2 278.8,749.8 286.1,769 288.9,771.7 292.9,790.9 297.1,777.2 300.8,758.9 305.3,764.4 309,780 312.3,782.7 315.4,764.4 319.6,753.5 326.4,769.8 334.6,789.9 339.2,784.4 346.5,800 351.1,797.2 354.7,794.5 357.5,793.6 360.6,780.8 364.8,782.6 368.4,782.6 372.1,804.6 376.3,805.4 379.9,797.1 384,827.3 388.5,809.9 392.2,808.1 395.9,816.3 399.5,799.9 402.7,786.1 406.9,786.1 410.6,774.2 414.6,786.1 421.9,783.3 424.7,824.5 429.3,833.5 433.3,846.3 439.3,822.5 443.9,800.6 448.5,778.6 454.9,753 459.4,748.5 463.1,760.4 469.5,766.8 473.1,770.4 475.9,779.5 480.5,787.7 484.1,782.2 493.3,781.3 496.9,777.6 501.5,770.3 506.1,774 509.7,783.1 514.3,790.4 519.8,784 526.2,794.9 531.7,804 539,811.4 544.5,810.4 549.9,814.1 557.7,822.8 562.3,806.3 569.6,821.9 575.1,830 583.4,843.7 587.9,858.4 592.5,872.1 596.2,861.1 599.8,865.7 604,878.5 611.7,875.7 616.3,863.9 622.3,852 625.4,867.4 633.7,895.8 638.2,885.7 653.8,905.8 656.5,902.2 660.2,881.1 672.1,904 679.4,889.3 684.9,888.3 695.8,888.3 699.5,902.1 703.2,958.1 712.3,930.3 716.9,881.2 720.5,869.6" fill="none" stroke="#9ccf9c" stroke-width="1" stroke-linejoin="round" /><polygon points="766.9,852.4 770.5,847.8 782.4,857 786.1,875.3 789.8,876.2 793.4,855.1 797.1,876.2 800.7,855.1 803.5,860.6 808,855.1 811.7,831.4 815.4,824 819,819.5 824.5,838.7 830.9,865.2 835.5,830.4 841,831.4 846.5,843.3 850.1,840.5 854.7,846.9 861.1,842.3 866.6,854.2 872.1,856.1 876.6,858.8 881.2,878.9 884.9,892.6 890.4,880.7 895.8,866.1 899.5,867 903.2,884.4 907.7,888.1 910.5,873.4 915.1,882.6 919.6,884.4 926,922.8 926,940.8 919.6,902.4 915.1,900.6 910.5,891.4 907.7,906.1 903.2,902.4 899.5,885 895.8,884.1 890.4,898.7 884.9,910.6 881.2,896.9 876.6,876.8 872.1,874.1 866.6,872.2 861.1,860.3 854.7,864.9 850.1,858.5 846.5,861.3 841,849.4 835.5,848.4 830.9,883.2 824.5,856.7 819,837.5 815.4,842 811.7,849.4 808,873.1 803.5,878.6 800.7,873.1 797.1,894.2 793.4,873.1 789.8,894.2 786.1,893.3 782.4,875 770.5,865.8 766.9,870.4" fill="#1a961a" fill-opacity="0.17" stroke="none"/><polyline points="766.9,852.4 770.5,847.8 782.4,857 786.1,875.3 789.8,876.2 793.4,855.1 797.1,876.2 800.7,855.1 803.5,860.6 808,855.1 811.7,831.4 815.4,824 819,819.5 824.5,838.7 830.9,865.2 835.5,830.4 841,831.4 846.5,843.3 850.1,840.5 854.7,846.9 861.1,842.3 866.6,854.2 872.1,856.1 876.6,858.8 881.2,878.9 884.9,892.6 890.4,880.7 895.8,866.1 899.5,867 903.2,884.4 907.7,888.1 910.5,873.4 915.1,882.6 919.6,884.4 926,922.8" fill="none" stroke="#9ccf9c" stroke-width="1" stroke-linejoin="round" /><polyline points="766.9,870.4 770.5,865.8 782.4,875 786.1,893.3 789.8,894.2 793.4,873.1 797.1,894.2 800.7,873.1 803.5,878.6 808,873.1 811.7,849.4 815.4,842 819,837.5 824.5,856.7 830.9,883.2 835.5,848.4 841,849.4 846.5,861.3 850.1,858.5 854.7,864.9 861.1,860.3 866.6,872.2 872.1,874.1 876.6,876.8 881.2,896.9 884.9,910.6 890.4,898.7 895.8,884.1 899.5,885 903.2,902.4 907.7,906.1 910.5,891.4 915.1,900.6 919.6,902.4 926,940.8" fill="none" stroke="#9ccf9c" stroke-width="1" stroke-linejoin="round" /><line x1="96.4" y1="716.1" x2="923.8" y2="900.7" stroke="#000" stroke-width="2"/><polyline points="96.4,734.9 100.1,727.6 107.4,734 111,748.6 115.6,768.7 119.3,750.5 123.8,741.3 126.6,743.1 130.2,759.6 133.9,754.1 137.9,737.7 144.9,754.1 149.4,740.4 153.1,745 156.7,735.8 160.4,718.5 165,721.2 172.3,723 175.9,706.6 183.3,685.5 188.7,700.2 193.3,703.8 197.9,711.1 202.5,714.8 206.1,739.5 209.8,755.9 214.3,746.8 218,721.2 221.3,700.2 225.3,712.1 229,707.5 232.6,715.7 236.3,716.6 239.9,726.7 244.5,712.1 247.7,720.2 251.9,736.7 258.7,727.5 262.9,750.4 266.9,747.7 270.6,750.4 274.3,740.3 278.8,744 286.1,763.2 288.9,765.9 292.9,785.1 297.1,771.4 300.8,753.1 305.3,758.6 309,774.2 312.3,776.9 315.4,758.6 319.6,747.7 326.4,764.1 334.6,784.2 339.2,778.7 346.5,794.3 351.1,791.5 354.7,788.8 357.5,787.9 360.6,775.1 364.8,776.9 368.4,776.9 372.1,798.9 376.3,799.8 379.9,791.5 384,821.7 388.5,804.3 392.2,802.5 395.9,810.7 399.5,794.3 402.7,780.5 406.9,780.5 410.6,768.6 414.6,780.5 421.9,777.7 424.7,818.9 429.3,828 433.3,840.8 439.3,817 443.9,795.1 448.5,773.1 454.9,747.5 459.4,743 463.1,754.9 469.5,761.3 473.1,764.9 475.9,774.1 480.5,782.3 484.1,776.8 493.3,775.9 496.9,772.2 501.5,764.9 506.1,768.6 509.7,777.7 514.3,785 519.8,778.6 526.2,789.6 531.7,798.7 539,806.1 544.5,805.1 549.9,808.8 557.7,817.5 562.3,801 569.6,816.6 575.1,824.8 583.4,838.5 587.9,853.2 592.5,866.9 596.2,855.9 599.8,860.5 604,873.3 611.7,870.5 616.3,858.7 622.3,846.8 625.4,862.3 633.7,890.7 638.2,880.6 653.8,900.7 656.5,897.1 660.2,876 672.1,898.9 679.4,884.3 684.9,883.3 695.8,883.3 699.5,897.1 703.2,952.9 712.3,924.5 716.9,875.1 720.5,863.2" fill="none" stroke="#007a00" stroke-width="2.4" stroke-linejoin="round" /><polyline points="766.9,861.4 770.5,856.8 782.4,866 786.1,884.3 789.8,885.2 793.4,864.1 797.1,885.2 800.7,864.1 803.5,869.6 808,864.1 811.7,840.4 815.4,833 819,828.5 824.5,847.7 830.9,874.2 835.5,839.4 841,840.4 846.5,852.3 850.1,849.5 854.7,855.9 861.1,851.3 866.6,863.2 872.1,865.1 876.6,867.8 881.2,887.9 884.9,901.6 890.4,889.7 895.8,875.1 899.5,876 903.2,893.4 907.7,897.1 910.5,882.4 915.1,891.6 919.6,893.4 926,931.8" fill="none" stroke="#007a00" stroke-width="2.4" stroke-linejoin="round" /></g>
<polygon points="96.4,752.9 216,720.7 217.7,727 234.4,712.1 212.5,707.6 214.2,713.9 94.6,746.1" fill="#1f3cf5" fill-opacity="0.8"/><polygon points="219.3,722.6 411.3,805 408.8,811 431.1,809.7 416.7,792.6 414.1,798.6 222.1,716.2" fill="#f01010" fill-opacity="0.72"/><polygon points="434.5,825.2 453,757.7 459.3,759.4 454.9,737.5 440,754.1 446.2,755.9 427.7,823.4" fill="#1f3cf5" fill-opacity="0.8"/><polygon points="449.3,742.2 697.4,907.2 693.8,912.7 716,915.4 704.9,896 701.3,901.4 453.1,736.4" fill="#f01010" fill-opacity="0.72"/><polygon points="778.7,884.6 800.3,857.3 805.4,861.3 809.9,839.4 789.7,848.9 794.8,852.9 773.3,880.2" fill="#1f3cf5" fill-opacity="0.8"/><polygon points="810,841.6 911.4,898.6 908.3,904.2 930.6,905.3 918.1,886.8 914.9,892.5 813.4,835.4" fill="#f01010" fill-opacity="0.72"/>
<g font-size="16.5" font-weight="bold" fill="#111" stroke="#111" stroke-width="0.4"><text x="109.8" y="982.8" text-anchor="middle">2004</text><text x="200.7" y="982.8" text-anchor="middle">2006</text><text x="291.6" y="982.8" text-anchor="middle">2008</text><text x="382.6" y="982.8" text-anchor="middle">2010</text><text x="473.5" y="982.8" text-anchor="middle">2012</text><text x="564.4" y="982.8" text-anchor="middle">2014</text><text x="655.3" y="982.8" text-anchor="middle">2016</text><text x="746.2" y="982.8" text-anchor="middle">2018</text><text x="837.2" y="982.8" text-anchor="middle">2020</text><text x="928.1" y="982.8" text-anchor="middle">2022</text><text x="58.2" y="941.4" text-anchor="end">-300</text><text x="58.2" y="892.5" text-anchor="end">-200</text><text x="58.2" y="843.7" text-anchor="end">-100</text><text x="58.2" y="794.8" text-anchor="end">0</text><text x="58.2" y="745.9" text-anchor="end">100</text><text x="58.2" y="697.1" text-anchor="end">200</text></g>
<text transform="translate(16.2,813.5) rotate(-90)" text-anchor="middle" font-size="18.3" font-weight="bold" fill="#111" stroke="#111" stroke-width="0.4">Groundwater Anomalies (mm)</text>
<text x="90.3" y="699.1" font-size="27.5" fill="#000">c</text>
<text x="517.6" y="699.7" text-anchor="middle" font-size="26.3" fill="#000">Tulare</text>
<line x1="767.1" y1="690.5" x2="808.7" y2="690.5" stroke="#008000" stroke-width="2.3"/>
<line x1="767.1" y1="709.8" x2="808.7" y2="709.8" stroke="#000" stroke-width="2.3"/>
<text x="813.2" y="696.2" font-size="15.3" font-weight="bold" fill="#000" stroke="#000" stroke-width="0.4">GRACE/FO</text>
<text x="813.2" y="715.9" font-size="15.3" font-weight="bold" fill="#000" stroke="#000" stroke-width="0.4">Overall Trend</text>
<text x="100.7" y="801.7" font-size="22.8" font-weight="bold" fill="#0a18f5" stroke="#0a18f5" stroke-width="0.4">1<tspan font-size="15" dy="-7.2">st</tspan><tspan dy="7.2"> recharge</tspan></text>
<text x="263" y="826.3" font-size="22.8" font-weight="bold" fill="#ff0000" stroke="#ff0000" stroke-width="0.4">1<tspan font-size="15" dy="-7.2">st</tspan><tspan dy="7.2"> drought</tspan></text>
<text x="347.1" y="726.6" font-size="22.8" font-weight="bold" fill="#0a18f5" stroke="#0a18f5" stroke-width="0.4">2<tspan font-size="15" dy="-7.2">nd</tspan><tspan dy="7.2"> recharge</tspan></text>
<text x="486.3" y="888.8" font-size="22.8" font-weight="bold" fill="#ff0000" stroke="#ff0000" stroke-width="0.4">2<tspan font-size="15" dy="-7.2">nd</tspan><tspan dy="7.2"> drought</tspan></text>
<text x="696.5" y="812.9" font-size="22.8" font-weight="bold" fill="#0a18f5" stroke="#0a18f5" stroke-width="0.4">3<tspan font-size="15" dy="-7.2">rd</tspan><tspan dy="7.2"> recharge</tspan></text>
<text x="794.7" y="914.4" font-size="22.8" font-weight="bold" fill="#ff0000" stroke="#ff0000" stroke-width="0.4">Present</text>
<text x="794.1" y="941.9" font-size="22.8" font-weight="bold" fill="#ff0000" stroke="#ff0000" stroke-width="0.4">drought</text>
<defs><clipPath id="clipd"><rect x="1038.7" y="6.3" width="850.6" height="289.2"/></clipPath></defs>
<rect x="1038.7" y="6.3" width="850.6" height="289.2" fill="none" stroke="#000" stroke-width="2"/>
<path d="M1083.1 6.3v9M1083.1 295.5v-9M1172.7 6.3v9M1172.7 295.5v-9M1262.3 6.3v9M1262.3 295.5v-9M1351.8 6.3v9M1351.8 295.5v-9M1441.4 6.3v9M1441.4 295.5v-9M1531 6.3v9M1531 295.5v-9M1620.6 6.3v9M1620.6 295.5v-9M1710.2 6.3v9M1710.2 295.5v-9M1799.7 6.3v9M1799.7 295.5v-9M1889.3 6.3v9M1889.3 295.5v-9M1038.7 272.3h9M1038.7 228h9M1038.7 183.6h9M1038.7 139.3h9M1038.7 95h9M1038.7 50.6h9M1038.7 6.3h9M1889.3 291.3h-9M1889.3 251.1h-9M1889.3 211h-9M1889.3 170.8h-9M1889.3 130.6h-9M1889.3 90.5h-9M1889.3 50.3h-9M1889.3 10.1h-9" stroke="#000" stroke-width="2" fill="none"/>
<g clip-path="url(#clipd)"><polyline points="1070.1,145.7 1073.7,123.2 1077.4,136 1081.6,138.4 1083.8,112.8 1088.3,124.1 1092.5,115.9 1096.2,129.2 1099.9,96.7 1103.5,143.9 1108.5,137.8 1112.1,136 1114.9,136.5 1118.9,140.2 1122.2,112.8 1125.8,142.4 1129.5,114.1 1133.1,112.2 1136.8,107.7 1140.5,104.9 1144.5,118.6 1148.7,124.5 1152.3,122.3 1156,127.8 1159.7,125.9 1163.3,115.9 1167,121.4 1170.6,136.9 1174.3,86.6 1178.5,86.6 1181.6,117.7 1185.8,93 1188.9,95.8 1193.1,55.5 1200.8,95.8 1205.4,101.3 1209,106.7 1211.8,108.6 1215.8,73.8 1219,92.9 1222.7,127.7 1226.9,87.4 1231.1,92 1234.2,133.1 1237.9,139 1241.5,136.8 1245.2,125.5 1248.8,134.1 1252.5,121.3 1256.7,97.5 1260.3,100.2 1264,156.5 1271.7,102.1 1275.3,127.7 1279,134.1 1282.7,127.7 1286.3,144.1 1290,123.1 1293.6,124.9 1297.6,122.2 1301.3,145 1305,151.4 1308.6,135.3 1312.8,157.3 1316.5,163.3 1320.1,161.5 1323.8,162.8 1327.5,170.6 1331.1,152.3 1334.8,151.4 1338.4,146.9 1342.1,152.3 1346.3,159.7 1349.9,150 1353.6,184.3 1357.3,162.8 1360.9,182.1 1364.6,186.5 1368.6,159.7 1371.8,156.2 1376.4,158.6 1380.1,165.9 1383.7,167.7 1387.4,170.5 1391,163.1 1394.7,165 1402.5,195.1 1406.6,183.3 1410.2,164.1 1413.9,152.2 1417.5,142.1 1420.8,129.9 1424.9,142.1 1432.2,132.4 1441.7,143 1443.5,158.6 1447.2,150 1450.1,174.1 1453.2,152.2 1461.4,156.7 1465.4,149.4 1469.1,154.9 1472.8,146.3 1477,163.1 1480.6,177.8 1484.3,214.3 1487.9,153.1 1491.6,156.7 1499.8,175 1503.1,190.2 1506.2,175.9 1509.9,176.9 1521.8,171.4 1525.4,168.6 1529,133.4 1532.3,149.3 1540.5,176.7 1543.3,217 1546.9,197.8 1551.1,186.8 1558.8,204.2 1562.5,221.9 1566.7,198.7 1570.3,210.2 1574.4,215.1 1578.4,219.7 1581.3,206.9 1585,213.3 1589.4,194.5 1599.6,230.7 1603.6,223.7 1607.6,229.8 1619.2,224.3 1622.8,224.3 1625.9,165.8 1629.6,188.6 1638,194.5 1644.8,227.9 1649,209.7 1661.2,226.1 1664.3,195.6 1667.6,240.2 1678.6,168.5 1681.5,128.5 1685.1,133" fill="none" stroke="#007a00" stroke-width="2.3" stroke-linejoin="round" /><polyline points="1730.3,182.4 1733.9,199.8 1746.7,205.8 1749.5,238.7 1753.1,208.9 1756.8,192.5 1760.1,210.7 1764.1,155.9 1767.8,139.4 1771.4,159 1775.1,163.2 1779.1,155 1782.4,155 1786.4,151.3 1790.1,179.7 1793.7,199.8 1797.9,155.9 1801.6,154.1 1804.6,157.4 1808.8,200.9 1813,189.2 1816.8,192.2 1820.1,197.1 1824.1,187.2 1827.8,198.6 1831.3,230.9 1835.4,206.2 1838.9,196.3 1843,192.5 1846.5,235.2 1850,207.8 1853.7,218.1 1857.6,197.9 1861.8,199.4 1865.6,205.5 1868.9,220 1872.4,235.2 1876.2,219.2 1880,233.7 1883.6,236.7" fill="none" stroke="#007a00" stroke-width="2.3" stroke-linejoin="round" /><polyline points="1070.1,116.8 1072.8,124.1 1076.8,127.8 1081,123.7 1084.7,126.9 1088.3,120.5 1092,120.1 1096.2,134.2 1099.9,136.9 1103.9,134.7 1107.2,136.5 1111.2,131.8 1114.5,131.8 1118.5,126.9 1122.2,128.7 1125.8,133.6 1130.4,134.7 1134.1,136.5 1137.7,136.9 1140.8,134.2 1144.5,110.9 1148.7,115.9 1158.7,124.1 1163.3,130.5 1167,123.7 1170.6,125 1174.3,104.9 1178.5,126.9 1185.8,82.1 1189.8,96.7 1193.1,106.7 1196.8,101.3 1200.8,103.6 1204.8,104.9 1208.1,114.1 1215.4,119.5 1219,142.3 1222.7,143.2 1226.3,155.1 1230.5,167.5 1234.2,168.8 1237.9,166.6 1241.5,149.6 1245.2,140.5 1248.8,143.7 1252.5,138.6 1256.7,143.2 1260.3,145.9 1264,152.3 1267.7,141.9 1271.3,153.3 1275,178.5 1278.6,185.3 1282.7,188 1286.3,185.3 1290,176.1 1294,172.5 1298.2,169.3 1301.9,170.6 1305,177.9 1308.6,195.7 1311.9,186.2 1315.6,175.6 1319.6,190.7 1323.8,179.2 1327.5,186.5 1331.1,196.8 1334.8,197.1 1338.4,186.2 1342.1,188.9 1346.3,186.5 1350.3,188.4 1354,189.5 1357.6,174.8 1361.3,174.3 1368.2,155.1 1372.2,158 1375.9,171.9 1382.8,170.1 1386.8,172.3 1394.7,156.2 1402.5,171.4 1406.2,154.9 1409.3,142.1 1413,141.2 1417.2,124.4 1420.8,130.2 1424.5,143.9 1428.1,153.1 1432.2,146.3 1436.2,153.6 1439.5,154.9 1443.1,177.8 1446.8,175.9 1450.5,178.7 1454.5,162.2 1458.1,173.7 1461.8,171.4 1465.4,157.7 1469.7,159.1 1473.3,162.2 1477,166.8 1480.6,160.4 1484.3,140.3 1487.9,158.6 1491.6,170.5 1495.3,187.8 1498.9,188.7 1502.6,197.9 1506.2,194.2 1514.1,200.6 1521.4,192 1525.4,197.9 1529,204.2 1532.7,235.3 1536.3,227 1540,214.6 1543.7,209.7 1546.9,240.7 1551.5,250.8 1554.6,238.9 1558.3,230.7 1561.9,230.7 1566.1,229.8 1569.8,231 1573.5,199.6 1577.7,214.2 1581.3,210.9 1584.4,227.9 1588.6,237.1 1591.7,259.9 1595.9,275.5 1599.6,276.4 1603.6,255.4 1607.3,240.7 1610.9,247.1 1614.6,244.4 1619.2,240.2 1625.2,229.8 1629.6,206.9 1633.8,210.9 1636.9,209.1 1640.6,210.2 1644.8,203.6 1648.4,200 1652.1,209.7 1655.7,208.7 1659.9,194.5 1663.6,188.3 1666.7,171.3 1670.9,141.5 1674.6,150.6 1678.2,137.4 1681.9,143.8 1683.7,149.5 1687.3,161.4 1691,165.9 1696.5,169.2 1700.1,182.8 1704.1,178.4 1708.3,181.5 1715.7,206.2 1718.8,206.5 1723,184.6 1730.3,205.3 1734.5,201.6 1738.1,189.3 1741.8,186.4 1745.5,191.9 1749.1,189.7 1755.9,169.6 1760.1,135.8 1767.8,116.2 1771.4,109.3 1775.1,106.5 1778.7,114.4 1782.8,116.2 1786.4,104.1 1790.1,148 1793.7,129.4 1797.4,127.9 1800,133 1805.8,146.8 1808.8,194 1812.5,149.1 1816,172.7 1819.8,168.1 1823.6,171.9 1827.4,171.2 1831.3,154.7 1835.1,173.9 1838.9,169.6 1842.7,176.1 1846.5,187.6 1850.3,191.8 1853.4,235.2 1857.2,216.6 1861,227.6 1864.8,242.8 1868.9,224.2 1872.4,221.5 1875.9,199.8 1879.6,239.8 1883.6,187.9 1887.2,195.6" fill="none" stroke="#0000ff" stroke-width="2.3" stroke-linejoin="round" /></g>
<g font-size="16.5" font-weight="bold" fill="#000" stroke="#000" stroke-width="0.4"><text x="1083.1" y="317.9" text-anchor="middle">2004</text><text x="1172.7" y="317.9" text-anchor="middle">2006</text><text x="1262.3" y="317.9" text-anchor="middle">2008</text><text x="1351.8" y="317.9" text-anchor="middle">2010</text><text x="1441.4" y="317.9" text-anchor="middle">2012</text><text x="1531" y="317.9" text-anchor="middle">2014</text><text x="1620.6" y="317.9" text-anchor="middle">2016</text><text x="1710.2" y="317.9" text-anchor="middle">2018</text><text x="1799.7" y="317.9" text-anchor="middle">2020</text><text x="1889.3" y="317.9" text-anchor="middle">2022</text><text x="1032.5" y="278.3" text-anchor="end">-300</text><text x="1032.5" y="234" text-anchor="end">-200</text><text x="1032.5" y="189.6" text-anchor="end">-100</text><text x="1032.5" y="145.3" text-anchor="end">0</text><text x="1032.5" y="101" text-anchor="end">100</text><text x="1032.5" y="56.6" text-anchor="end">200</text><text x="1032.5" y="12.3" text-anchor="end">300</text><text x="1894.8" y="297.3">-1500</text><text x="1894.8" y="257.1">-1000</text><text x="1894.8" y="217">-500</text><text x="1894.8" y="176.8">0</text><text x="1894.8" y="136.6">500</text><text x="1894.8" y="96.5">1000</text><text x="1894.8" y="56.3">1500</text><text x="1894.8" y="16.1">2000</text></g>
<text transform="translate(967,150.9) rotate(-90)" text-anchor="middle" font-size="18.3" font-weight="bold" fill="#000" stroke="#000" stroke-width="0.4">Deseasonalized Groundwater</text>
<text transform="translate(988.5,150.9) rotate(-90)" text-anchor="middle" font-size="18.3" font-weight="bold" fill="#000" stroke="#000" stroke-width="0.4">Anomalies (mm)</text>
<text transform="translate(1962.3,150.9) rotate(-90)" text-anchor="middle" font-size="18.65" font-weight="bold" fill="#000" stroke="#000" stroke-width="0.4">Deseasonalized Water Table</text>
<text transform="translate(1983.8,150.9) rotate(-90)" text-anchor="middle" font-size="18.35" font-weight="bold" fill="#000" stroke="#000" stroke-width="0.4">Depth Anomalies (mm)</text>
<text x="1062.3" y="34.1" font-size="26" fill="#000">d</text>
<text x="1471.9" y="43.5" text-anchor="middle" font-size="26.3" fill="#000">Sacramento</text>
<line x1="1636.9" y1="29.9" x2="1678.4" y2="29.9" stroke="#008000" stroke-width="2.3"/>
<line x1="1636.9" y1="52.6" x2="1678.4" y2="52.6" stroke="#0000ff" stroke-width="2.3"/>
<text x="1682.3" y="35.7" font-size="15" font-weight="bold" fill="#000" stroke="#000" stroke-width="0.4">GRACE/FO</text>
<text x="1682.3" y="54.6" font-size="15" font-weight="bold" fill="#000" stroke="#000" stroke-width="0.4">Wells in Sacramento Basin</text>
<defs><clipPath id="clipe"><rect x="1041" y="334.6" width="850.7" height="289.1"/></clipPath></defs>
<rect x="1041" y="334.6" width="850.7" height="289.1" fill="none" stroke="#000" stroke-width="2"/>
<path d="M1085.2 334.6v9M1085.2 623.7v-9M1174.8 334.6v9M1174.8 623.7v-9M1264.4 334.6v9M1264.4 623.7v-9M1354.1 334.6v9M1354.1 623.7v-9M1443.7 334.6v9M1443.7 623.7v-9M1533.3 334.6v9M1533.3 623.7v-9M1622.9 334.6v9M1622.9 623.7v-9M1712.5 334.6v9M1712.5 623.7v-9M1802.2 334.6v9M1802.2 623.7v-9M1891.8 334.6v9M1891.8 623.7v-9M1041 601.7h9M1041 557.2h9M1041 512.7h9M1041 468.1h9M1041 423.6h9M1041 379.1h9M1041 334.6h9M1891.7 623.9h-9M1891.7 583.1h-9M1891.7 542.3h-9M1891.7 501.5h-9M1891.7 460.7h-9M1891.7 419.9h-9M1891.7 379.1h-9M1891.7 338.3h-9" stroke="#000" stroke-width="2" fill="none"/>
<g clip-path="url(#clipe)"><polyline points="1071.9,451.3 1076.1,429.4 1079.7,434.5 1082.9,437 1086.5,432.1 1091.1,459.5 1094.7,443.6 1098,439.4 1102.1,418 1105.7,448 1109.7,447.3 1113,444.4 1116.7,451.7 1120.7,465.9 1124.4,455.9 1128,470.5 1131.7,472.9 1135.3,464.5 1139,470.5 1146.9,463.7 1154.2,448.6 1158.4,446.2 1162,449.1 1165.7,446.2 1169.3,437 1173,455.3 1176.7,438.9 1180.3,438.5 1184,470.5 1187.6,468.1 1191.3,460.1 1195.3,429 1199,444 1202.6,449.5 1206.3,452.2 1210.3,448.6 1214.5,453.5 1217.7,423.9 1221.4,423 1225.1,441.3 1228.7,415.7 1232.7,411.7 1236.6,441.3 1240.2,439.5 1243.9,445.3 1247.5,443.5 1251.6,446.8 1255.2,437.7 1258.9,433.1 1262.9,441.3 1266.6,479.7 1269.9,466 1273.5,439.8 1277.5,442.8 1281.2,453.7 1284.8,459.6 1288.5,455 1292.2,442.2 1295.8,444.1 1299.5,439.5 1303.7,448.3 1307.3,450.5 1311,444.1 1318.3,472.4 1322,475.7 1325.6,477 1329.8,481.5 1333.5,475.7 1337.1,479.3 1340.8,477 1344.5,489.2 1348.1,487 1351.8,479.3 1355.8,503.1 1359.5,485.6 1366.8,517.2 1370.4,503.5 1374.6,495.3 1378.2,497.1 1381.9,495.3 1386.1,499.8 1392.9,500.7 1396.5,530.9 1404.7,545.5 1408,541.9 1415.3,511.7 1423.4,500.7 1427,500.2 1430.7,490.3 1435.5,489.8 1439.1,480.6 1442.8,474.6 1445.3,479.7 1449,463.3 1452.6,469.7 1455,456.9 1464.2,468.7 1467.8,469.1 1471.5,472.8 1475.1,469.7 1482.5,483 1486.7,501.7 1490.7,462.3 1494.3,460.5 1501.7,475.7 1504.9,486.1 1509,487.9 1512.6,491 1523.6,486.1 1527.5,486.3 1530.8,451.3 1533.8,446.7 1542.1,459.2 1545.8,487.7 1550,493.3 1554.2,505.4 1560.8,531.5 1564.6,530.4 1568.8,511.7 1572.5,514.8 1578.8,503.3 1583.8,488.8 1587.1,484.2 1590.6,482.1 1593.3,497.1 1601.7,543.3 1605.2,537.7 1609.4,540.8 1624.6,528.8 1627.7,487.7 1631.7,513.3 1646.3,546.7 1663.5,557.5 1666.7,558.5 1670.4,628 1678.8,615.4 1683.2,567.5 1687.3,562.7" fill="none" stroke="#007a00" stroke-width="2.3" stroke-linejoin="round" /><polyline points="1732.5,549.6 1735.2,555.4 1749.8,570.4 1751.3,591.3 1755,578.3 1758.8,551.7 1762.3,574.2 1765.8,539.8 1773.8,548.8 1776.9,534.6 1781,539.8 1785.2,539.8 1789.4,542.9 1795.6,550.2 1799.8,514.8 1804,505.4 1806.8,493.6 1810.7,526.5 1814.2,527.4 1817.8,537.2 1822.2,546.4 1825.8,547 1829.4,563 1833.4,572.8 1837.4,554.1 1841.3,545.2 1844.8,539.8 1848.4,569.2 1851.9,556.7 1855.5,551.8 1859.6,536.8 1863.2,541.1 1867.2,559.9 1870.8,567.4 1874.4,565.3 1877.9,559.4 1881.8,557.6 1885.7,563" fill="none" stroke="#007a00" stroke-width="2.3" stroke-linejoin="round" /><polyline points="1071.9,495.2 1076.1,483.3 1079.7,506.2 1082.9,490.6 1087.1,478.4 1094.4,470.5 1101.7,524.5 1105.7,538.7 1113,527.2 1117,508 1120.3,496.1 1124.4,477.8 1128,472.3 1131.7,453.1 1135.3,467.8 1139,448 1146.3,472.3 1150,489.7 1154.2,531.8 1161.5,505.3 1165.1,491.2 1168.8,491.2 1172.5,480.6 1176.7,430.3 1180.3,463.7 1183,450 1191.4,330 1196.1,419.6 1198.6,462.3 1202.6,465.9 1206.3,474.2 1210,469.2 1214,474.7 1216.8,524.5 1221.1,525.7 1225.4,494.6 1229,498.3 1231.5,541.6 1236,556.2 1243.3,514.8 1247.3,514.4 1251,512.3 1254.6,493.4 1258.7,516 1262.3,549.5 1266.2,527.3 1269.9,501.3 1273.5,511.1 1277.2,536.7 1280.9,539.8 1284.5,521.5 1288.5,477 1292.2,470.6 1295.8,478.2 1299.1,510.5 1302.8,509.3 1307.1,497.7 1311.1,546.8 1314.8,508.7 1322.1,548.9 1326,529.4 1329,498.3 1333,494 1336.6,474.2 1340.6,500.1 1344.3,498.5 1348.5,501.3 1351.8,479.7 1355.9,498.3 1359.5,492.2 1362.8,512.9 1366.5,509.3 1370.5,520.2 1374.8,491.6 1378.2,486.7 1385.5,482.5 1389.2,487.9 1392.9,480.1 1396.5,456.9 1400.7,434.9 1404.4,477.9 1408,463.3 1411.7,383.7 1415.3,387.9 1419,406.6 1422.7,389.2 1426.7,428.9 1433.6,451.9 1437.7,452.6 1445,519 1448.6,511.2 1452.6,505.3 1456.3,498.9 1460,505.3 1464.2,499.5 1467.8,504.4 1471.5,503.5 1475.1,499.8 1478.8,492.9 1482.5,489.8 1486.1,455.9 1489.8,481.5 1493.4,511.7 1497.1,528.2 1500.7,522.7 1504.9,534.6 1508.6,517.2 1512.3,510.8 1515.9,516.3 1519.9,505.7 1523.6,515.4 1530.8,507.1 1534.4,531.5 1538.5,540.4 1542.1,534.6 1545.8,547.5 1549.6,546 1553.8,530.4 1556.7,507.5 1560.8,486.3 1564.6,485 1568.3,524.6 1571.9,508.5 1575.6,455.4 1579.2,501.3 1583.8,503.8 1587.1,544 1590.6,563.3 1594.8,560 1597.9,558.5 1605.2,508.5 1609.4,496 1613.5,537.1 1620.4,505.4 1624.6,510 1627.5,559.2 1631.3,556.5 1635.4,567.9 1639.2,560 1642.7,573.8 1646.3,563.8 1650,544 1654.2,528.8 1657.9,531.5 1661.5,524.2 1665,504.4 1669.2,488.8 1672.9,478.8 1676.7,496 1680.2,496 1683.8,480.8 1687.9,492.5 1691.5,475.8 1695.6,482.1 1699.2,483.5 1702.9,489.8 1706.7,486.7 1710.2,450.8 1713.8,471 1717.9,505 1721.3,510 1724.8,505 1732.5,526.7 1735.8,521 1740,495.4 1743.5,496.7 1747.7,504.4 1751.3,500.8 1755,469 1758.8,482.1 1762.3,480 1765.8,494.6 1770,502.9 1773.8,512.1 1777.5,494.6 1781,503.8 1788.3,473.1 1792.5,479.4 1796.3,478.3 1799.8,463.3 1803.6,466 1808,492.7 1811,494.5 1814.6,481.7 1818.1,531.8 1821.7,537.5 1825.8,538.1 1829.4,530.9 1832.9,521.2 1837,513.2 1840.9,517.6 1844.5,480.6 1848.4,506.9 1851.9,509.6 1855.5,539.8 1859.1,555 1862.6,583.8 1866.7,592 1870.8,588.8 1874.4,578.4 1877.9,558.5 1881.8,556.4 1889,530.9" fill="none" stroke="#0000ff" stroke-width="2.3" stroke-linejoin="round" /></g>
<g font-size="16.5" font-weight="bold" fill="#000" stroke="#000" stroke-width="0.4"><text x="1085.2" y="646.1" text-anchor="middle">2004</text><text x="1174.8" y="646.1" text-anchor="middle">2006</text><text x="1264.4" y="646.1" text-anchor="middle">2008</text><text x="1354.1" y="646.1" text-anchor="middle">2010</text><text x="1443.7" y="646.1" text-anchor="middle">2012</text><text x="1533.3" y="646.1" text-anchor="middle">2014</text><text x="1622.9" y="646.1" text-anchor="middle">2016</text><text x="1712.5" y="646.1" text-anchor="middle">2018</text><text x="1802.2" y="646.1" text-anchor="middle">2020</text><text x="1891.8" y="646.1" text-anchor="middle">2022</text><text x="1034.8" y="607.7" text-anchor="end">-300</text><text x="1034.8" y="563.2" text-anchor="end">-200</text><text x="1034.8" y="518.7" text-anchor="end">-100</text><text x="1034.8" y="474.1" text-anchor="end">0</text><text x="1034.8" y="429.6" text-anchor="end">100</text><text x="1034.8" y="385.1" text-anchor="end">200</text><text x="1034.8" y="340.6" text-anchor="end">300</text><text x="1897.2" y="629.9">-1500</text><text x="1897.2" y="589.1">-1000</text><text x="1897.2" y="548.3">-500</text><text x="1897.2" y="507.5">0</text><text x="1897.2" y="466.7">500</text><text x="1897.2" y="425.9">1000</text><text x="1897.2" y="385.1">1500</text><text x="1897.2" y="344.3">2000</text></g>
<text transform="translate(969.3,479.2) rotate(-90)" text-anchor="middle" font-size="18.3" font-weight="bold" fill="#000" stroke="#000" stroke-width="0.4">Deseasonalized Groundwater</text>
<text transform="translate(990.8,479.2) rotate(-90)" text-anchor="middle" font-size="18.3" font-weight="bold" fill="#000" stroke="#000" stroke-width="0.4">Anomalies (mm)</text>
<text transform="translate(1964.7,479.2) rotate(-90)" text-anchor="middle" font-size="18.65" font-weight="bold" fill="#000" stroke="#000" stroke-width="0.4">Deseasonalized Water Table</text>
<text transform="translate(1986.2,479.2) rotate(-90)" text-anchor="middle" font-size="18.35" font-weight="bold" fill="#000" stroke="#000" stroke-width="0.4">Depth Anomalies (mm)</text>
<text x="1059" y="366.2" font-size="26" fill="#000">e</text>
<text x="1489.8" y="368.5" text-anchor="middle" font-size="26.3" fill="#000">San Joaquin</text>
<line x1="1637.6" y1="357.9" x2="1678.8" y2="357.9" stroke="#008000" stroke-width="2.3"/>
<line x1="1637.6" y1="378.5" x2="1678.8" y2="378.5" stroke="#0000ff" stroke-width="2.3"/>
<text x="1683" y="363.7" font-size="15" font-weight="bold" fill="#000" stroke="#000" stroke-width="0.4">GRACE/FO</text>
<text x="1683" y="383" font-size="15" font-weight="bold" fill="#000" stroke="#000" stroke-width="0.4">Wells in San Joaquin Basin</text>
<defs><clipPath id="clipf"><rect x="1046.3" y="670.2" width="850.7" height="289.7"/></clipPath></defs>
<rect x="1046.3" y="670.2" width="850.7" height="289.7" fill="none" stroke="#000" stroke-width="2"/>
<path d="M1090.2 670.2v9M1090.2 959.9v-9M1179.8 670.2v9M1179.8 959.9v-9M1269.5 670.2v9M1269.5 959.9v-9M1359.1 670.2v9M1359.1 959.9v-9M1448.8 670.2v9M1448.8 959.9v-9M1538.4 670.2v9M1538.4 959.9v-9M1628 670.2v9M1628 959.9v-9M1717.7 670.2v9M1717.7 959.9v-9M1807.3 670.2v9M1807.3 959.9v-9M1897 670.2v9M1897 959.9v-9M1046.3 937.6h9M1046.3 893h9M1046.3 848.5h9M1046.3 803.9h9M1046.3 759.3h9M1046.3 714.8h9M1046.3 670.2h9M1897 959h-9M1897 918.3h-9M1897 877.6h-9M1897 836.9h-9M1897 796.2h-9M1897 755.5h-9M1897 714.8h-9M1897 674.1h-9" stroke="#000" stroke-width="2" fill="none"/>
<g clip-path="url(#clipf)"><polyline points="1077.4,786.7 1081.5,773 1088.8,773 1092.4,782.2 1096.5,799.5 1100.1,783.6 1103.4,778.5 1107.4,783.1 1111.1,802.3 1114.7,798.6 1118.4,793.1 1122.6,796.8 1126.3,796.8 1129.9,780.7 1133.6,784 1137.2,775.8 1140.9,755.7 1151.9,764.8 1155.5,753.8 1159.2,750.2 1163.4,744.7 1167,749.6 1170.7,750.7 1174.3,747.8 1178.4,751.5 1182,753.3 1185.7,764.8 1189.3,790.4 1193,784.9 1200.3,750.2 1204,763 1207.6,765.3 1211.3,769 1215.3,763 1219,767.9 1222.7,752.9 1226.9,760.7 1230.6,771.7 1237.9,765.7 1241.6,789.4 1245.2,790.3 1249.3,799.1 1252.9,796.2 1256.6,794 1260.2,793.6 1263.9,799.5 1267.9,800.4 1271.6,817.8 1278.9,790 1282.5,795.5 1286.2,810.1 1289.8,818.1 1293.5,804.1 1297.7,801.7 1301.4,805.9 1305,808.6 1308.7,811.9 1312.3,818.7 1316,813.2 1319.7,815.6 1323.3,824.7 1327,824.7 1330.6,823.3 1334.8,827.8 1338.5,819.6 1342.1,829.7 1346.2,823.3 1349.8,837.9 1353.5,835.7 1357.1,824.7 1361.2,851.6 1364.8,833.3 1368.5,831.5 1372.1,842.5 1375.8,830.2 1379.8,820.6 1383.7,826.9 1387.5,820.6 1391.4,829.8 1398.2,815.4 1402,851.1 1410.1,866.5 1420.9,818.3 1428.1,803.8 1431.9,805.1 1436.4,792.8 1441.6,798.6 1448.3,799.9 1450.7,808.6 1458,814 1460.9,810.1 1469.6,817.3 1475.4,817.9 1480.2,815.9 1488.5,822.1 1496.2,811.5 1499.5,812.8 1506.2,828.9 1511.1,836.6 1514.4,844.3 1518.2,848.2 1528.4,849.1 1532.6,851.3 1536.6,833.5 1542.1,842.7 1546.9,851.3 1551.6,855.7 1557.6,871.2 1562,890.2 1566.3,911 1570.1,898 1574.1,894.5 1579.2,902 1585.3,895.7 1592.2,879.8 1596,874.3 1597.7,888.5 1607.4,926.5 1611.2,923.4 1626.8,924.4 1630.2,919.6 1633.3,900.2 1637.1,907.5 1644.9,924.4 1651.8,921.7 1656.1,924.8 1668.2,911 1671.7,919.6 1675.1,962 1683.8,943.8 1685,936.1 1689.1,905.2 1692.8,895.1" fill="none" stroke="#007a00" stroke-width="2.3" stroke-linejoin="round" /><polyline points="1738.3,895.8 1741.1,894.1 1754.9,899.5 1756.5,910.9 1760.1,909.3 1764.3,888.1 1767.9,906.5 1771.5,887.3 1775.2,897.4 1779,893.5 1782.9,874.6 1786.6,874.3 1790.4,875.9 1793.9,884.1 1797.5,896.7 1801.3,902.8 1805.3,868.2 1809.2,869.1 1813.3,865.3 1816.2,880 1820.1,877.1 1824.5,886.8 1831,890.6 1835.7,906.6 1839.2,906 1843.7,897.1 1847.5,896.5 1850.5,906 1854,923.7 1857.5,916.3 1861.4,911.9 1865.2,901.6 1868.7,904.5 1872.3,923.7 1876.1,932 1880,925.2 1883.5,927.2 1887,923.1 1890.9,929.6" fill="none" stroke="#007a00" stroke-width="2.3" stroke-linejoin="round" /><polyline points="1077.4,818.4 1081.1,799 1084.7,816.9 1088.4,811.4 1095.7,795.9 1099.4,796.4 1103,793.1 1107.1,796.4 1110.7,807.4 1114.4,798.6 1118,800.1 1121.7,809.6 1125.3,825.7 1129.4,837.9 1133,815.1 1136.7,813.3 1140.3,816.5 1144,795 1147.6,789.1 1151.3,784.4 1155.5,772.1 1159.2,781.8 1162.8,783.1 1167,762.4 1170.7,771.2 1174.7,780.7 1178.4,778.9 1182,789.8 1185.7,777.6 1189.3,779.4 1192.6,790.4 1196.6,739.2 1200.3,744.7 1204,759.9 1208,774.9 1211.6,768.5 1215.3,789.1 1219,772.1 1222.7,759.3 1226.9,794 1230.6,780.8 1233.7,781.6 1237.9,804.1 1241.6,780.8 1245.2,788.1 1249.3,804.1 1256.6,804.1 1260.2,824.7 1267.9,814.5 1271.6,826 1274.9,826.9 1282.5,818.7 1286.2,846.1 1289.8,840.6 1297.7,835.1 1301.4,851.6 1305,847.9 1308.7,855.3 1312.3,845.6 1316,855.8 1319.7,840.6 1323.3,861.3 1327,876.6 1330.6,877.7 1334.8,857.6 1338.5,856.2 1342.1,872.3 1346.2,864.4 1349.8,861.7 1353.5,881.4 1357.1,866.8 1360.8,875.4 1364.8,864.9 1368.1,871.7 1372.1,855.8 1375.8,854 1379.2,870.8 1383.1,855.9 1387,862.6 1390.8,899.7 1398.2,814.8 1402,822.1 1405.9,815.4 1413.6,849.5 1417.5,819.8 1420.9,827.5 1427.5,801.8 1431.7,796.9 1435.3,776.6 1439.1,764.5 1443.1,758.4 1447,763.4 1450.2,788 1454.5,789.4 1458,769.5 1462,772.7 1465.7,809.6 1469.6,807.1 1471.9,798.3 1476.5,774.8 1480.1,780.5 1484,783.7 1488.3,789.7 1491.8,820.6 1495.6,796.1 1499.5,832.2 1502.4,829.4 1506.2,835.6 1510.1,840.4 1514,857.8 1517.8,863.6 1525.6,838.5 1529,833.7 1532.6,850.1 1536.6,870.9 1540,857.7 1543.8,860 1547.3,874.3 1551.1,885.9 1554.5,886.8 1562.5,914.1 1565.9,895.7 1569.7,898.9 1573.5,869.1 1581,910.6 1584.9,874.7 1588.7,878.5 1591.9,879 1595.7,913 1599.1,912.7 1602.9,935.5 1606.9,936.9 1610.9,928.2 1614.7,924.4 1618.5,894 1622.4,900.2 1625.9,920.5 1629.9,904 1633.7,926.8 1637.1,884.2 1641.4,919.6 1645.4,924.8 1649.2,922.7 1652.7,921.7 1656.1,925.6 1659.9,921 1663.4,887.1 1666.8,902.3 1671.3,919.2 1674.8,904.9 1678.2,889.9 1681.7,864 1685.5,884.7 1689.1,863.3 1692.8,865.9 1696.7,876.7 1700.4,878.4 1704.2,864.6 1707.8,825.9 1711.8,815.4 1715.6,816.1 1719.1,839.3 1722.7,853.5 1727,854 1730.5,856.4 1734.1,860.5 1737.8,867 1741.6,850.7 1745.2,836.1 1749.2,845 1753,854 1756.5,843.4 1760.1,851.9 1764.3,821.5 1767.9,842.6 1771.5,838.5 1775.2,832.4 1779,815.4 1782.6,818.7 1786.1,813.3 1789.9,808.9 1793.6,813.8 1797.5,813.8 1801.3,806.3 1805.3,797.4 1808.9,745.2 1816.2,838.7 1823.9,724.6 1827.4,758.5 1834.8,680.3 1839.2,805.7 1842.2,847 1846.6,877.1 1849.6,870.6 1854,849.9 1857.5,866.2 1861.4,869.1 1865.2,867 1868.2,870 1872.3,903 1876.1,901.6 1880,917.2 1883.5,926.1 1887.9,897.7 1890.9,892.7 1895.3,925.2" fill="none" stroke="#0000ff" stroke-width="2.3" stroke-linejoin="round" /></g>
<g font-size="16.5" font-weight="bold" fill="#000" stroke="#000" stroke-width="0.4"><text x="1090.2" y="982.3" text-anchor="middle">2004</text><text x="1179.8" y="982.3" text-anchor="middle">2006</text><text x="1269.5" y="982.3" text-anchor="middle">2008</text><text x="1359.1" y="982.3" text-anchor="middle">2010</text><text x="1448.8" y="982.3" text-anchor="middle">2012</text><text x="1538.4" y="982.3" text-anchor="middle">2014</text><text x="1628" y="982.3" text-anchor="middle">2016</text><text x="1717.7" y="982.3" text-anchor="middle">2018</text><text x="1807.3" y="982.3" text-anchor="middle">2020</text><text x="1897" y="982.3" text-anchor="middle">2022</text><text x="1040.1" y="943.6" text-anchor="end">-300</text><text x="1040.1" y="899" text-anchor="end">-200</text><text x="1040.1" y="854.5" text-anchor="end">-100</text><text x="1040.1" y="809.9" text-anchor="end">0</text><text x="1040.1" y="765.3" text-anchor="end">100</text><text x="1040.1" y="720.8" text-anchor="end">200</text><text x="1040.1" y="676.2" text-anchor="end">300</text><text x="1902.5" y="965">-1500</text><text x="1902.5" y="924.3">-1000</text><text x="1902.5" y="883.6">-500</text><text x="1902.5" y="842.9">0</text><text x="1902.5" y="802.2">500</text><text x="1902.5" y="761.5">1000</text><text x="1902.5" y="720.8">1500</text><text x="1902.5" y="680.1">2000</text></g>
<text transform="translate(974.6,815) rotate(-90)" text-anchor="middle" font-size="18.3" font-weight="bold" fill="#000" stroke="#000" stroke-width="0.4">Deseasonalized Groundwater</text>
<text transform="translate(996.1,815) rotate(-90)" text-anchor="middle" font-size="18.3" font-weight="bold" fill="#000" stroke="#000" stroke-width="0.4">Anomalies (mm)</text>
<text transform="translate(1970,815) rotate(-90)" text-anchor="middle" font-size="18.65" font-weight="bold" fill="#000" stroke="#000" stroke-width="0.4">Deseasonalized Water Table</text>
<text transform="translate(1991.5,815) rotate(-90)" text-anchor="middle" font-size="18.35" font-weight="bold" fill="#000" stroke="#000" stroke-width="0.4">Depth Anomalies (mm)</text>
<text x="1070.3" y="704.6" font-size="27.3" fill="#000">f</text>
<text x="1481.4" y="707.7" text-anchor="middle" font-size="26.3" fill="#000">Tulare</text>
<line x1="1604.2" y1="693.7" x2="1646.1" y2="693.7" stroke="#008000" stroke-width="2.3"/>
<line x1="1604.2" y1="713.5" x2="1646.1" y2="713.5" stroke="#0000ff" stroke-width="2.3"/>
<text x="1650.5" y="699.6" font-size="15" font-weight="bold" fill="#000" stroke="#000" stroke-width="0.4">GRACE/FO</text>
<text x="1650.5" y="719" font-size="15" font-weight="bold" fill="#000" stroke="#000" stroke-width="0.4">Wells in Tulare Basin</text>
</svg></body></html>
